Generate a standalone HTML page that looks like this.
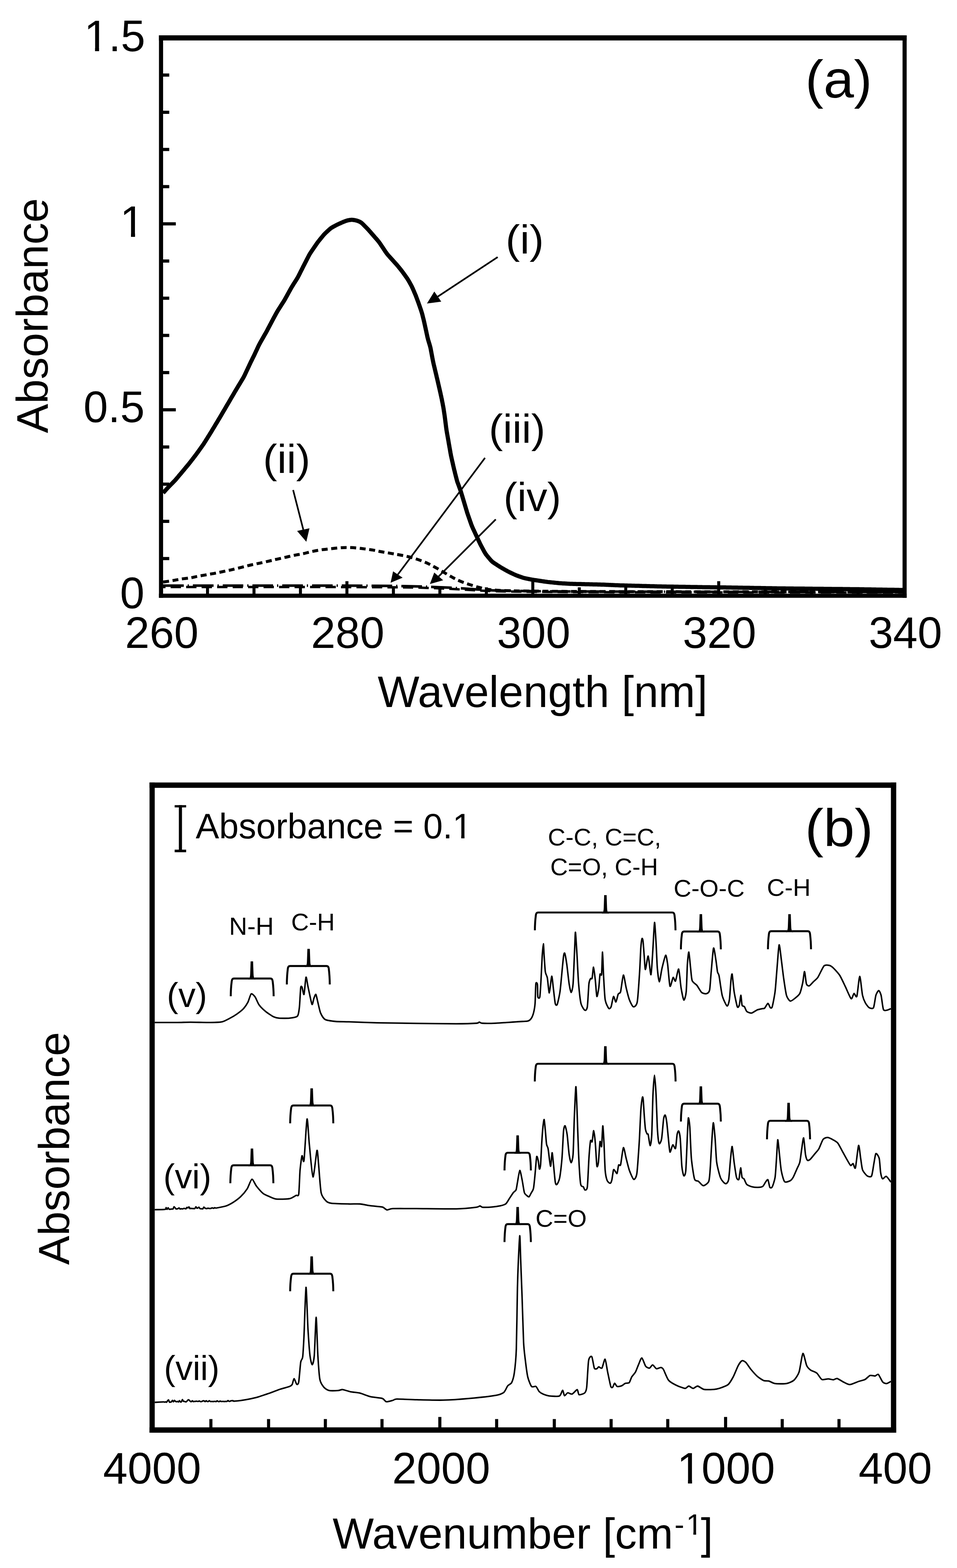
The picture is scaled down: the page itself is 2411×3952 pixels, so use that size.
<!DOCTYPE html>
<html><head><meta charset="utf-8"><style>
html,body{margin:0;padding:0;background:#fff;}
svg{display:block;}
</style></head><body>
<svg width="2411" height="3952" viewBox="0 0 2411 3952">
<rect width="2411" height="3952" fill="#fff"/>
<g fill="#000">
<rect x="400.5" y="89.0" width="1883.7" height="13.0"/>
<rect x="400.5" y="1496.3" width="1883.7" height="10.4"/>
<rect x="400.5" y="89.0" width="10.4" height="1417.7"/>
<rect x="2273.8" y="89.0" width="10.4" height="1417.7"/>
<rect x="410.0" y="1403.8" width="16.4" height="8.0"/>
<rect x="410.0" y="1310.0" width="16.4" height="8.0"/>
<rect x="410.0" y="1216.3" width="16.4" height="8.0"/>
<rect x="410.0" y="1122.6" width="16.4" height="8.0"/>
<rect x="410.0" y="1028.8" width="32.9" height="8.0"/>
<rect x="410.0" y="935.1" width="16.4" height="8.0"/>
<rect x="410.0" y="841.4" width="16.4" height="8.0"/>
<rect x="410.0" y="747.6" width="16.4" height="8.0"/>
<rect x="410.0" y="653.9" width="16.4" height="8.0"/>
<rect x="410.0" y="560.2" width="32.9" height="8.0"/>
<rect x="410.0" y="466.4" width="16.4" height="8.0"/>
<rect x="410.0" y="372.7" width="16.4" height="8.0"/>
<rect x="410.0" y="279.0" width="16.4" height="8.0"/>
<rect x="410.0" y="185.2" width="16.4" height="8.0"/>
<rect x="519.0" y="1480.3" width="7.6" height="16.7"/>
<rect x="636.1" y="1480.3" width="7.6" height="16.7"/>
<rect x="753.1" y="1480.3" width="7.6" height="16.7"/>
<rect x="870.2" y="1464.8" width="7.6" height="32.2"/>
<rect x="987.3" y="1480.3" width="7.6" height="16.7"/>
<rect x="1104.4" y="1480.3" width="7.6" height="16.7"/>
<rect x="1221.5" y="1480.3" width="7.6" height="16.7"/>
<rect x="1338.5" y="1464.8" width="7.6" height="32.2"/>
<rect x="1455.6" y="1480.3" width="7.6" height="16.7"/>
<rect x="1572.7" y="1480.3" width="7.6" height="16.7"/>
<rect x="1689.8" y="1480.3" width="7.6" height="16.7"/>
<rect x="1806.9" y="1464.8" width="7.6" height="32.2"/>
<rect x="1924.0" y="1480.3" width="7.6" height="16.7"/>
<rect x="2041.0" y="1480.3" width="7.6" height="16.7"/>
<rect x="2158.1" y="1480.3" width="7.6" height="16.7"/>
</g>
<g font-family="'Liberation Sans', Arial, sans-serif" fill="#000">
<text x="364.0" y="1532.5" font-size="111" text-anchor="end">0</text>
<text x="364.5" y="1063.8" font-size="111" text-anchor="end">0.5</text>
<text x="364.0" y="596.7" font-size="111" text-anchor="end">1</text>
<text x="366.0" y="128.5" font-size="111" text-anchor="end">1.5</text>
<text x="407.7" y="1632.5" font-size="111" text-anchor="middle">260</text>
<text x="876.0" y="1632.5" font-size="111" text-anchor="middle">280</text>
<text x="1344.3" y="1632.5" font-size="111" text-anchor="middle">300</text>
<text x="1812.7" y="1632.5" font-size="111" text-anchor="middle">320</text>
<text x="2281.0" y="1632.5" font-size="111" text-anchor="middle">340</text>
<text x="1367.0" y="1781.5" font-size="111.3" text-anchor="middle">Wavelength [nm]</text>
<text transform="translate(120,795.5) rotate(-90)" font-size="111" text-anchor="middle">Absorbance</text>
<text transform="translate(2113.0,246.0) scale(1.013,0.985)" font-size="136" text-anchor="middle">(a)</text>
</g>
<g fill="none" stroke="#000" stroke-linejoin="round">
<path d="M411.0,1242.5 L412.8,1240.4 L413.9,1239.3 L415.1,1237.9 L416.3,1236.5 L417.6,1235.0 L419.0,1233.5 L420.3,1232.0 L421.7,1230.6 L423.0,1229.1 L424.4,1227.7 L425.8,1226.2 L427.2,1224.8 L428.6,1223.4 L430.0,1222.0 L431.4,1220.5 L432.8,1219.1 L434.2,1217.7 L435.6,1216.3 L437.1,1214.8 L438.4,1213.4 L439.8,1212.0 L441.2,1210.5 L442.5,1209.0 L443.8,1207.5 L445.1,1206.0 L446.4,1204.4 L447.7,1202.9 L449.0,1201.4 L450.2,1199.8 L451.5,1198.3 L452.8,1196.8 L454.1,1195.2 L455.4,1193.7 L456.7,1192.2 L458.0,1190.6 L459.2,1189.1 L460.5,1187.6 L461.8,1186.0 L463.1,1184.5 L464.4,1183.0 L465.6,1181.4 L466.9,1179.9 L468.2,1178.3 L469.5,1176.8 L470.8,1175.3 L472.0,1173.7 L473.3,1172.2 L474.6,1170.6 L475.9,1169.1 L477.1,1167.5 L478.3,1166.0 L479.6,1164.4 L480.8,1162.8 L482.0,1161.2 L483.2,1159.6 L484.5,1158.1 L485.7,1156.5 L486.9,1154.9 L488.1,1153.3 L489.3,1151.7 L490.6,1150.1 L491.8,1148.5 L493.0,1146.9 L494.2,1145.3 L495.4,1143.7 L496.5,1142.1 L497.7,1140.5 L498.9,1138.9 L500.1,1137.2 L501.2,1135.6 L502.4,1134.0 L503.5,1132.4 L504.7,1130.7 L505.9,1129.1 L507.0,1127.5 L508.2,1125.9 L509.3,1124.2 L510.5,1122.6 L511.6,1120.9 L512.8,1119.3 L513.9,1117.6 L514.9,1115.9 L516.0,1114.2 L517.1,1112.6 L518.1,1110.9 L519.2,1109.2 L520.2,1107.5 L521.3,1105.8 L522.4,1104.1 L523.4,1102.4 L524.5,1100.7 L525.5,1099.0 L526.6,1097.3 L527.7,1095.6 L528.7,1093.9 L529.8,1092.2 L530.8,1090.5 L531.9,1088.8 L532.9,1087.1 L533.9,1085.3 L535.0,1083.6 L536.0,1081.9 L537.0,1080.2 L538.1,1078.5 L539.1,1076.8 L540.1,1075.1 L541.2,1073.4 L542.2,1071.6 L543.2,1069.9 L544.3,1068.2 L545.3,1066.5 L546.3,1064.8 L547.4,1063.1 L548.4,1061.4 L549.4,1059.6 L550.4,1057.9 L551.5,1056.2 L552.5,1054.5 L553.5,1052.8 L554.5,1051.1 L555.5,1049.3 L556.6,1047.6 L557.6,1045.9 L558.6,1044.2 L559.6,1042.4 L560.6,1040.7 L561.6,1039.0 L562.6,1037.2 L563.6,1035.5 L564.6,1033.8 L565.7,1032.1 L566.7,1030.3 L567.7,1028.6 L568.7,1026.9 L569.7,1025.2 L570.7,1023.4 L571.7,1021.7 L572.7,1020.0 L573.7,1018.3 L574.8,1016.5 L575.8,1014.8 L576.8,1013.1 L577.8,1011.4 L578.8,1009.6 L579.8,1007.9 L580.8,1006.2 L581.8,1004.4 L582.8,1002.7 L583.8,1001.0 L584.8,999.3 L585.9,997.5 L586.9,995.8 L587.9,994.1 L588.9,992.4 L589.9,990.6 L590.9,988.9 L591.9,987.2 L592.9,985.5 L594.0,983.7 L595.0,982.0 L596.0,980.3 L597.0,978.6 L598.1,976.9 L599.1,975.2 L600.1,973.4 L601.2,971.7 L602.2,970.0 L603.2,968.3 L604.3,966.6 L605.3,964.9 L606.3,963.2 L607.4,961.4 L608.4,959.7 L609.4,958.0 L610.4,956.3 L611.5,954.6 L612.5,952.9 L613.5,951.1 L614.4,949.4 L615.3,947.6 L616.2,945.8 L617.1,944.0 L617.9,942.2 L618.8,940.4 L619.6,938.6 L620.5,936.7 L621.3,934.9 L622.2,933.1 L623.0,931.3 L623.9,929.5 L624.7,927.7 L625.6,925.9 L626.4,924.1 L627.3,922.3 L628.1,920.4 L629.0,918.6 L629.8,916.8 L630.7,915.0 L631.5,913.2 L632.4,911.4 L633.3,909.6 L634.2,907.8 L635.1,906.0 L636.0,904.2 L636.8,902.4 L637.7,900.7 L638.6,898.9 L639.5,897.1 L640.4,895.3 L641.2,893.5 L642.1,891.7 L642.9,889.8 L643.8,888.0 L644.6,886.2 L645.5,884.4 L646.3,882.6 L647.2,880.8 L648.0,879.0 L648.8,877.2 L649.7,875.3 L650.5,873.5 L651.4,871.7 L652.3,869.9 L653.2,868.1 L654.1,866.4 L655.1,864.6 L656.0,862.9 L657.0,861.1 L658.0,859.4 L659.0,857.6 L660.0,855.9 L661.0,854.2 L662.0,852.4 L663.0,850.7 L663.9,849.0 L664.9,847.2 L665.9,845.5 L666.9,843.7 L667.9,842.0 L668.9,840.3 L669.9,838.5 L670.9,836.8 L671.8,835.0 L672.8,833.3 L673.7,831.5 L674.6,829.7 L675.6,828.0 L676.5,826.2 L677.4,824.4 L678.4,822.7 L679.3,820.9 L680.2,819.1 L681.2,817.3 L682.1,815.6 L683.0,813.8 L684.0,812.0 L684.9,810.3 L685.8,808.5 L686.8,806.7 L687.7,805.0 L688.6,803.2 L689.6,801.4 L690.5,799.7 L691.5,797.9 L692.5,796.2 L693.4,794.4 L694.4,792.6 L695.3,790.9 L696.3,789.1 L697.3,787.4 L698.2,785.7 L699.3,783.9 L700.3,782.2 L701.4,780.5 L702.4,778.8 L703.5,777.2 L704.6,775.5 L705.7,773.8 L706.7,772.1 L707.8,770.4 L708.9,768.7 L710.0,767.0 L711.0,765.4 L712.1,763.7 L713.2,762.0 L714.3,760.3 L715.3,758.6 L716.4,756.9 L717.4,755.2 L718.4,753.4 L719.3,751.7 L720.3,749.9 L721.3,748.2 L722.3,746.4 L723.2,744.7 L724.2,742.9 L725.1,741.2 L726.1,739.4 L727.1,737.7 L728.0,735.9 L729.0,734.2 L730.0,732.4 L730.9,730.7 L731.9,728.9 L732.9,727.2 L733.9,725.4 L734.9,723.7 L735.9,722.0 L737.0,720.3 L738.0,718.6 L739.1,716.9 L740.1,715.2 L741.2,713.5 L742.3,711.8 L743.4,710.1 L744.4,708.4 L745.5,706.8 L746.6,705.1 L747.6,703.4 L748.7,701.7 L749.7,699.9 L750.7,698.2 L751.6,696.4 L752.5,694.7 L753.4,692.9 L754.3,691.1 L755.2,689.3 L756.1,687.5 L757.0,685.7 L757.9,683.9 L758.8,682.1 L759.7,680.4 L760.6,678.6 L761.5,676.8 L762.4,675.0 L763.3,673.2 L764.2,671.4 L765.1,669.6 L766.0,667.9 L766.9,666.1 L767.8,664.3 L768.7,662.5 L769.7,660.7 L770.6,659.0 L771.5,657.2 L772.4,655.4 L773.3,653.6 L774.2,651.8 L775.1,650.1 L776.0,648.3 L777.0,646.5 L777.9,644.7 L778.8,643.0 L779.8,641.2 L780.8,639.5 L781.9,637.8 L783.0,636.1 L784.1,634.5 L785.2,632.8 L786.3,631.2 L787.5,629.5 L788.6,627.9 L789.7,626.2 L790.8,624.6 L792.0,622.9 L793.1,621.3 L794.2,619.6 L795.4,618.0 L796.5,616.3 L797.6,614.7 L798.8,613.0 L800.0,611.4 L801.1,609.8 L802.4,608.2 L803.6,606.6 L804.9,605.1 L806.1,603.5 L807.4,602.0 L808.7,600.4 L809.9,598.9 L811.2,597.4 L812.5,595.8 L813.7,594.3 L815.0,592.7 L816.4,591.2 L817.7,589.8 L819.1,588.3 L820.5,586.9 L822.0,585.6 L823.4,584.2 L824.9,582.8 L826.4,581.5 L827.8,580.1 L829.3,578.8 L830.8,577.5 L832.3,576.2 L833.9,575.0 L835.6,573.9 L837.3,572.9 L839.0,571.9 L840.8,570.9 L842.5,570.0 L844.3,569.0 L846.0,568.1 L847.8,567.1 L849.6,566.2 L851.4,565.4 L853.2,564.5 L855.0,563.7 L856.8,562.9 L858.7,562.1 L860.5,561.3 L862.3,560.5 L864.2,559.7 L866.0,558.9 L867.9,558.2 L869.7,557.4 L871.6,556.8 L873.5,556.2 L875.4,555.7 L877.4,555.2 L879.3,554.8 L881.3,554.5 L883.3,554.2 L885.2,554.1 L887.2,554.1 L889.2,554.2 L891.1,554.5 L893.1,554.8 L895.1,555.2 L897.0,555.6 L898.9,556.1 L900.8,556.7 L902.7,557.4 L904.5,558.1 L906.3,559.0 L908.0,559.9 L909.7,561.0 L911.3,562.2 L912.7,563.5 L914.2,564.9 L915.6,566.3 L917.0,567.7 L918.4,569.1 L919.8,570.6 L921.2,572.0 L922.6,573.4 L924.0,574.9 L925.4,576.3 L926.8,577.7 L928.1,579.2 L929.5,580.7 L930.8,582.2 L932.1,583.7 L933.5,585.2 L934.8,586.7 L936.1,588.2 L937.4,589.7 L938.7,591.2 L940.0,592.7 L941.3,594.2 L942.6,595.7 L943.9,597.2 L945.2,598.8 L946.6,600.3 L947.9,601.8 L949.2,603.3 L950.5,604.8 L951.8,606.3 L953.0,607.9 L954.3,609.4 L955.5,611.0 L956.7,612.7 L957.8,614.3 L958.9,615.9 L960.0,617.6 L961.1,619.3 L962.2,620.9 L963.4,622.6 L964.5,624.3 L965.6,625.9 L966.7,627.6 L967.8,629.3 L968.9,630.9 L970.0,632.6 L971.1,634.3 L972.3,635.9 L973.4,637.5 L974.6,639.1 L975.8,640.7 L977.1,642.2 L978.4,643.8 L979.7,645.2 L981.1,646.7 L982.4,648.2 L983.7,649.7 L985.1,651.2 L986.4,652.7 L987.8,654.2 L989.1,655.6 L990.5,657.1 L991.8,658.6 L993.1,660.1 L994.5,661.6 L995.8,663.1 L997.2,664.6 L998.5,666.0 L999.8,667.5 L1001.1,669.1 L1002.4,670.6 L1003.7,672.1 L1004.9,673.7 L1006.2,675.2 L1007.4,676.8 L1008.7,678.4 L1009.9,679.9 L1011.2,681.5 L1012.4,683.1 L1013.6,684.7 L1014.8,686.3 L1016.0,687.9 L1017.1,689.5 L1018.3,691.1 L1019.5,692.8 L1020.6,694.4 L1021.8,696.0 L1023.0,697.7 L1024.1,699.3 L1025.3,700.9 L1026.4,702.6 L1027.5,704.3 L1028.5,706.0 L1029.5,707.7 L1030.5,709.4 L1031.5,711.2 L1032.5,712.9 L1033.4,714.7 L1034.4,716.4 L1035.4,718.2 L1036.3,719.9 L1037.2,721.7 L1038.1,723.5 L1038.9,725.3 L1039.8,727.1 L1040.6,729.0 L1041.4,730.8 L1042.2,732.6 L1043.0,734.5 L1043.7,736.3 L1044.5,738.1 L1045.3,740.0 L1046.1,741.8 L1046.9,743.7 L1047.6,745.5 L1048.3,747.4 L1049.0,749.3 L1049.7,751.1 L1050.4,753.0 L1051.1,754.9 L1051.8,756.8 L1052.5,758.7 L1053.2,760.5 L1053.9,762.4 L1054.6,764.3 L1055.2,766.2 L1055.9,768.1 L1056.6,769.9 L1057.2,771.8 L1057.9,773.7 L1058.5,775.6 L1059.2,777.5 L1059.8,779.4 L1060.5,781.3 L1061.1,783.2 L1061.7,785.1 L1062.3,787.0 L1062.9,788.9 L1063.4,790.8 L1064.0,792.8 L1064.5,794.7 L1064.9,796.6 L1065.4,798.6 L1065.9,800.5 L1066.4,802.5 L1066.9,804.4 L1067.4,806.3 L1067.8,808.3 L1068.3,810.2 L1068.7,812.2 L1069.2,814.1 L1069.6,816.1 L1070.0,818.0 L1070.5,820.0 L1070.9,821.9 L1071.3,823.9 L1071.8,825.9 L1072.2,827.8 L1072.6,829.8 L1073.0,831.7 L1073.5,833.7 L1073.9,835.6 L1074.3,837.6 L1074.7,839.5 L1075.1,841.5 L1075.6,843.5 L1076.0,845.4 L1076.4,847.4 L1076.8,849.3 L1077.3,851.3 L1077.8,853.2 L1078.3,855.1 L1078.8,857.1 L1079.4,859.0 L1080.0,860.9 L1080.5,862.8 L1081.1,864.7 L1081.7,866.6 L1082.3,868.6 L1082.8,870.5 L1083.4,872.4 L1083.9,874.3 L1084.4,876.3 L1084.8,878.2 L1085.2,880.2 L1085.6,882.1 L1085.9,884.1 L1086.3,886.1 L1086.7,888.0 L1087.0,890.0 L1087.4,892.0 L1087.8,893.9 L1088.1,895.9 L1088.5,897.9 L1088.9,899.8 L1089.2,901.8 L1089.6,903.8 L1090.0,905.7 L1090.4,907.7 L1090.8,909.7 L1091.2,911.6 L1091.6,913.6 L1092.0,915.5 L1092.5,917.5 L1092.9,919.4 L1093.4,921.4 L1093.9,923.3 L1094.3,925.3 L1094.8,927.2 L1095.3,929.1 L1095.7,931.1 L1096.2,933.0 L1096.6,935.0 L1097.1,936.9 L1097.6,938.9 L1098.0,940.8 L1098.5,942.8 L1099.0,944.7 L1099.4,946.7 L1099.9,948.6 L1100.3,950.6 L1100.8,952.5 L1101.3,954.4 L1101.7,956.4 L1102.2,958.3 L1102.6,960.3 L1103.1,962.2 L1103.5,964.2 L1104.0,966.1 L1104.4,968.1 L1104.9,970.0 L1105.3,972.0 L1105.8,973.9 L1106.2,975.9 L1106.7,977.8 L1107.1,979.8 L1107.6,981.7 L1108.0,983.7 L1108.4,985.6 L1108.9,987.6 L1109.3,989.5 L1109.8,991.5 L1110.2,993.4 L1110.6,995.4 L1111.1,997.4 L1111.5,999.3 L1111.9,1001.3 L1112.3,1003.2 L1112.8,1005.2 L1113.2,1007.1 L1113.5,1009.1 L1113.9,1011.1 L1114.3,1013.0 L1114.7,1015.0 L1115.1,1016.9 L1115.5,1018.9 L1115.8,1020.9 L1116.2,1022.8 L1116.6,1024.8 L1116.9,1026.8 L1117.3,1028.7 L1117.6,1030.7 L1117.9,1032.7 L1118.2,1034.7 L1118.5,1036.7 L1118.8,1038.6 L1119.1,1040.6 L1119.4,1042.6 L1119.7,1044.6 L1120.0,1046.5 L1120.3,1048.5 L1120.5,1050.5 L1120.8,1052.5 L1121.1,1054.5 L1121.3,1056.5 L1121.6,1058.4 L1121.8,1060.4 L1122.1,1062.4 L1122.3,1064.4 L1122.6,1066.4 L1122.8,1068.4 L1123.1,1070.3 L1123.3,1072.3 L1123.6,1074.3 L1123.8,1076.3 L1124.1,1078.3 L1124.4,1080.3 L1124.6,1082.2 L1124.9,1084.2 L1125.3,1086.2 L1125.6,1088.2 L1125.9,1090.1 L1126.3,1092.1 L1126.6,1094.1 L1127.0,1096.0 L1127.3,1098.0 L1127.7,1100.0 L1128.0,1102.0 L1128.4,1103.9 L1128.7,1105.9 L1129.1,1107.9 L1129.4,1109.8 L1129.8,1111.8 L1130.1,1113.8 L1130.4,1115.7 L1130.8,1117.7 L1131.1,1119.7 L1131.5,1121.7 L1131.8,1123.6 L1132.2,1125.6 L1132.5,1127.6 L1132.9,1129.5 L1133.2,1131.5 L1133.6,1133.5 L1133.9,1135.4 L1134.2,1137.4 L1134.6,1139.4 L1134.9,1141.4 L1135.3,1143.3 L1135.7,1145.3 L1136.0,1147.3 L1136.4,1149.2 L1136.9,1151.2 L1137.3,1153.1 L1137.7,1155.1 L1138.2,1157.0 L1138.6,1159.0 L1139.0,1160.9 L1139.5,1162.9 L1139.9,1164.8 L1140.4,1166.8 L1140.8,1168.7 L1141.2,1170.7 L1141.7,1172.6 L1142.1,1174.6 L1142.6,1176.5 L1143.0,1178.5 L1143.5,1180.4 L1143.9,1182.4 L1144.4,1184.3 L1144.9,1186.3 L1145.4,1188.2 L1145.9,1190.1 L1146.3,1192.1 L1146.8,1194.0 L1147.3,1196.0 L1147.8,1197.9 L1148.3,1199.9 L1148.8,1201.8 L1149.3,1203.7 L1149.8,1205.7 L1150.3,1207.6 L1150.8,1209.5 L1151.3,1211.5 L1151.9,1213.4 L1152.5,1215.3 L1153.2,1217.1 L1153.9,1219.0 L1154.6,1220.9 L1155.3,1222.8 L1156.0,1224.7 L1156.7,1226.5 L1157.3,1228.4 L1158.0,1230.3 L1158.7,1232.2 L1159.4,1234.1 L1160.0,1235.9 L1160.7,1237.8 L1161.3,1239.7 L1161.9,1241.7 L1162.5,1243.6 L1163.0,1245.5 L1163.6,1247.4 L1164.2,1249.3 L1164.8,1251.2 L1165.3,1253.1 L1165.9,1255.1 L1166.5,1257.0 L1167.1,1258.9 L1167.6,1260.8 L1168.2,1262.7 L1168.8,1264.6 L1169.4,1266.6 L1169.9,1268.5 L1170.5,1270.4 L1171.1,1272.3 L1171.6,1274.2 L1172.2,1276.1 L1172.8,1278.1 L1173.4,1280.0 L1173.9,1281.9 L1174.5,1283.8 L1175.1,1285.7 L1175.7,1287.6 L1176.2,1289.6 L1176.8,1291.5 L1177.4,1293.4 L1178.1,1295.3 L1178.7,1297.2 L1179.4,1299.1 L1180.0,1300.9 L1180.7,1302.8 L1181.3,1304.7 L1182.0,1306.6 L1182.7,1308.5 L1183.3,1310.4 L1184.0,1312.3 L1184.6,1314.2 L1185.3,1316.0 L1186.0,1317.9 L1186.6,1319.8 L1187.3,1321.7 L1188.0,1323.6 L1188.7,1325.4 L1189.5,1327.3 L1190.3,1329.1 L1191.1,1330.9 L1191.9,1332.8 L1192.8,1334.6 L1193.6,1336.4 L1194.5,1338.2 L1195.3,1340.0 L1196.2,1341.8 L1197.0,1343.6 L1197.8,1345.5 L1198.7,1347.3 L1199.5,1349.1 L1200.4,1350.9 L1201.2,1352.7 L1202.1,1354.5 L1202.9,1356.3 L1203.7,1358.2 L1204.6,1360.0 L1205.4,1361.8 L1206.3,1363.6 L1207.1,1365.4 L1208.0,1367.2 L1208.8,1369.0 L1209.7,1370.8 L1210.6,1372.6 L1211.5,1374.4 L1212.4,1376.2 L1213.4,1377.9 L1214.3,1379.7 L1215.3,1381.5 L1216.2,1383.2 L1217.1,1385.0 L1218.1,1386.8 L1219.0,1388.5 L1220.0,1390.3 L1221.0,1392.0 L1222.0,1393.7 L1223.0,1395.4 L1224.2,1397.1 L1225.4,1398.6 L1226.6,1400.2 L1227.9,1401.8 L1229.1,1403.3 L1230.4,1404.8 L1231.7,1406.4 L1233.0,1407.9 L1234.3,1409.4 L1235.6,1411.0 L1236.9,1412.4 L1238.3,1413.9 L1239.7,1415.2 L1241.2,1416.5 L1242.8,1417.7 L1244.5,1418.8 L1246.1,1419.9 L1247.8,1421.0 L1249.5,1422.1 L1251.2,1423.2 L1252.8,1424.3 L1254.5,1425.4 L1256.2,1426.5 L1257.9,1427.6 L1259.6,1428.6 L1261.3,1429.7 L1263.0,1430.7 L1264.7,1431.7 L1266.4,1432.7 L1268.2,1433.7 L1269.9,1434.7 L1271.6,1435.7 L1273.4,1436.7 L1275.1,1437.7 L1276.9,1438.7 L1278.6,1439.6 L1280.4,1440.5 L1282.2,1441.5 L1283.9,1442.3 L1285.7,1443.2 L1287.6,1444.1 L1289.4,1444.9 L1291.2,1445.8 L1293.0,1446.6 L1294.8,1447.5 L1296.6,1448.3 L1298.4,1449.1 L1300.3,1449.9 L1302.1,1450.6 L1304.0,1451.3 L1305.9,1452.0 L1307.8,1452.7 L1309.7,1453.3 L1311.6,1454.0 L1313.4,1454.6 L1315.3,1455.3 L1317.2,1455.9 L1319.2,1456.5 L1321.1,1457.0 L1323.0,1457.5 L1325.0,1457.9 L1326.9,1458.3 L1328.9,1458.7 L1330.8,1459.1 L1332.8,1459.5 L1334.8,1459.9 L1336.7,1460.3 L1338.7,1460.6 L1340.7,1461.0 L1342.6,1461.3 L1344.6,1461.6 L1346.6,1461.9 L1348.6,1462.2 L1350.5,1462.5 L1352.5,1462.8 L1354.5,1463.1 L1356.5,1463.4 L1358.5,1463.7 L1360.4,1464.0 L1362.4,1464.3 L1364.4,1464.6 L1366.4,1464.9 L1368.4,1465.2 L1370.3,1465.5 L1372.3,1465.8 L1374.3,1466.1 L1376.3,1466.3 L1378.2,1466.6 L1380.2,1466.9 L1382.2,1467.1 L1384.2,1467.3 L1386.2,1467.5 L1388.2,1467.7 L1390.2,1467.9 L1392.2,1468.1 L1394.2,1468.3 L1396.1,1468.5 L1398.1,1468.7 L1400.1,1468.9 L1402.1,1469.1 L1404.1,1469.3 L1406.1,1469.5 L1408.1,1469.7 L1410.1,1469.9 L1412.1,1470.0 L1414.1,1470.1 L1416.1,1470.3 L1418.1,1470.4 L1420.1,1470.5 L1422.1,1470.6 L1424.1,1470.7 L1426.1,1470.8 L1428.1,1470.9 L1430.1,1471.1 L1432.0,1471.2 L1434.0,1471.3 L1436.0,1471.4 L1438.0,1471.5 L1440.0,1471.6 L1442.0,1471.6 L1444.0,1471.7 L1446.0,1471.7 L1448.0,1471.8 L1450.0,1471.8 L1452.0,1471.9 L1454.0,1471.9 L1456.0,1472.0 L1458.0,1472.0 L1460.0,1472.1 L1462.0,1472.1 L1464.0,1472.1 L1466.0,1472.2 L1468.0,1472.2 L1470.0,1472.3 L1472.0,1472.3 L1474.0,1472.4 L1476.0,1472.4 L1478.0,1472.5 L1480.0,1472.5 L1482.0,1472.6 L1484.0,1472.6 L1486.0,1472.7 L1488.0,1472.7 L1490.0,1472.8 L1492.0,1472.8 L1494.0,1472.9 L1496.0,1472.9 L1498.0,1473.0 L1500.0,1473.0 L1502.0,1473.1 L1504.0,1473.1 L1506.0,1473.2 L1508.0,1473.2 L1510.0,1473.3 L1512.0,1473.3 L1514.0,1473.4 L1516.0,1473.4 L1518.0,1473.5 L1520.0,1473.6 L1522.0,1473.6 L1524.0,1473.7 L1526.0,1473.8 L1528.0,1473.9 L1530.0,1474.0 L1532.0,1474.1 L1534.0,1474.2 L1536.0,1474.2 L1538.0,1474.3 L1540.0,1474.4 L1542.0,1474.5 L1544.0,1474.6 L1546.0,1474.7 L1548.0,1474.8 L1550.0,1474.9 L1552.0,1475.0 L1554.0,1475.1 L1556.0,1475.1 L1558.0,1475.2 L1560.0,1475.3 L1562.0,1475.4 L1564.0,1475.4 L1566.0,1475.5 L1568.0,1475.5 L1570.0,1475.6 L1572.0,1475.6 L1574.0,1475.7 L1576.0,1475.7 L1578.0,1475.8 L1580.0,1475.8 L1582.0,1475.9 L1584.0,1476.0 L1586.0,1476.0 L1588.0,1476.1 L1590.0,1476.1 L1592.0,1476.2 L1594.0,1476.2 L1596.0,1476.3 L1598.0,1476.3 L1600.0,1476.4 L1602.0,1476.4 L1604.0,1476.5 L1606.0,1476.5 L1608.0,1476.6 L1610.0,1476.6 L1612.0,1476.7 L1614.0,1476.7 L1616.0,1476.8 L1618.0,1476.9 L1620.0,1476.9 L1622.0,1477.0 L1624.0,1477.0 L1626.0,1477.1 L1628.0,1477.1 L1630.0,1477.2 L1632.0,1477.2 L1634.0,1477.3 L1636.0,1477.3 L1638.0,1477.4 L1640.0,1477.4 L1642.0,1477.5 L1644.0,1477.5 L1646.0,1477.6 L1648.0,1477.6 L1650.0,1477.7 L1652.0,1477.7 L1654.0,1477.8 L1656.0,1477.9 L1658.0,1477.9 L1660.0,1478.0 L1662.0,1478.0 L1664.0,1478.1 L1666.0,1478.1 L1668.0,1478.2 L1670.0,1478.2 L1672.0,1478.2 L1674.0,1478.3 L1676.0,1478.3 L1678.0,1478.3 L1680.0,1478.4 L1682.0,1478.4 L1684.0,1478.4 L1686.0,1478.5 L1688.0,1478.5 L1690.0,1478.5 L1692.0,1478.6 L1694.0,1478.6 L1696.0,1478.6 L1698.0,1478.7 L1700.0,1478.7 L1702.0,1478.7 L1704.0,1478.8 L1706.0,1478.8 L1708.0,1478.8 L1710.0,1478.9 L1712.0,1478.9 L1714.0,1478.9 L1716.0,1479.0 L1718.0,1479.0 L1720.0,1479.0 L1722.0,1479.1 L1724.0,1479.1 L1726.0,1479.1 L1728.0,1479.2 L1730.0,1479.2 L1732.0,1479.2 L1734.0,1479.3 L1736.0,1479.3 L1738.0,1479.3 L1740.0,1479.4 L1742.0,1479.4 L1744.0,1479.4 L1746.0,1479.5 L1748.0,1479.5 L1750.0,1479.5 L1752.0,1479.6 L1754.0,1479.6 L1756.0,1479.6 L1758.0,1479.7 L1760.0,1479.7 L1762.0,1479.7 L1764.0,1479.8 L1766.0,1479.8 L1768.0,1479.8 L1770.0,1479.9 L1772.0,1479.9 L1774.0,1479.9 L1776.0,1480.0 L1778.0,1480.0 L1780.0,1480.0 L1782.0,1480.1 L1784.0,1480.1 L1786.0,1480.1 L1788.0,1480.1 L1790.0,1480.2 L1792.0,1480.2 L1794.0,1480.2 L1796.0,1480.2 L1798.0,1480.3 L1800.0,1480.3 L1802.0,1480.3 L1804.0,1480.3 L1806.0,1480.4 L1808.0,1480.4 L1810.0,1480.4 L1812.0,1480.4 L1814.0,1480.5 L1816.0,1480.5 L1818.0,1480.5 L1820.0,1480.5 L1822.0,1480.6 L1824.0,1480.6 L1826.0,1480.6 L1828.0,1480.6 L1830.0,1480.7 L1832.0,1480.7 L1834.0,1480.7 L1836.0,1480.8 L1838.0,1480.8 L1840.0,1480.8 L1842.0,1480.8 L1844.0,1480.9 L1846.0,1480.9 L1848.0,1480.9 L1850.0,1481.0 L1852.0,1481.0 L1854.0,1481.0 L1856.0,1481.1 L1858.0,1481.1 L1860.0,1481.2 L1862.0,1481.2 L1864.0,1481.2 L1866.0,1481.3 L1868.0,1481.3 L1870.0,1481.3 L1872.0,1481.4 L1874.0,1481.4 L1876.0,1481.4 L1878.0,1481.5 L1880.0,1481.5 L1882.0,1481.5 L1884.0,1481.6 L1886.0,1481.6 L1888.0,1481.6 L1890.0,1481.7 L1892.0,1481.7 L1894.0,1481.7 L1896.0,1481.8 L1898.0,1481.8 L1900.0,1481.9 L1902.0,1481.9 L1904.0,1481.9 L1906.0,1482.0 L1908.0,1482.0 L1910.0,1482.0 L1912.0,1482.1 L1914.0,1482.1 L1916.0,1482.1 L1918.0,1482.2 L1920.0,1482.2 L1922.0,1482.2 L1924.0,1482.3 L1926.0,1482.3 L1928.0,1482.3 L1930.0,1482.4 L1932.0,1482.4 L1934.0,1482.4 L1936.0,1482.5 L1938.0,1482.5 L1940.0,1482.6 L1942.0,1482.6 L1944.0,1482.6 L1946.0,1482.7 L1948.0,1482.7 L1950.0,1482.7 L1952.0,1482.8 L1954.0,1482.8 L1956.0,1482.8 L1958.0,1482.9 L1960.0,1482.9 L1962.0,1482.9 L1964.0,1483.0 L1966.0,1483.0 L1968.0,1483.0 L1970.0,1483.0 L1972.0,1483.1 L1974.0,1483.1 L1976.0,1483.1 L1978.0,1483.1 L1980.0,1483.2 L1982.0,1483.2 L1984.0,1483.2 L1986.0,1483.2 L1988.0,1483.2 L1990.0,1483.3 L1992.0,1483.3 L1994.0,1483.3 L1996.0,1483.3 L1998.0,1483.3 L2000.0,1483.4 L2002.0,1483.4 L2004.0,1483.4 L2006.0,1483.4 L2008.0,1483.4 L2010.0,1483.5 L2012.0,1483.5 L2014.0,1483.5 L2016.0,1483.5 L2018.0,1483.6 L2020.0,1483.6 L2022.0,1483.6 L2024.0,1483.6 L2026.0,1483.6 L2028.0,1483.7 L2030.0,1483.7 L2032.0,1483.7 L2034.0,1483.7 L2036.0,1483.7 L2038.0,1483.8 L2040.0,1483.8 L2042.0,1483.8 L2044.0,1483.8 L2046.0,1483.8 L2048.0,1483.9 L2050.0,1483.9 L2052.0,1483.9 L2054.0,1483.9 L2056.0,1483.9 L2058.0,1484.0 L2060.0,1484.0 L2062.0,1484.0 L2064.0,1484.0 L2066.0,1484.1 L2068.0,1484.1 L2070.0,1484.1 L2072.0,1484.1 L2074.0,1484.1 L2076.0,1484.2 L2078.0,1484.2 L2080.0,1484.2 L2082.0,1484.2 L2084.0,1484.2 L2086.0,1484.3 L2088.0,1484.3 L2090.0,1484.3 L2092.0,1484.3 L2094.0,1484.3 L2096.0,1484.4 L2098.0,1484.4 L2100.0,1484.4 L2102.0,1484.4 L2104.0,1484.5 L2106.0,1484.5 L2108.0,1484.5 L2110.0,1484.5 L2112.0,1484.5 L2114.0,1484.6 L2116.0,1484.6 L2118.0,1484.6 L2120.0,1484.6 L2122.0,1484.6 L2124.0,1484.7 L2126.0,1484.7 L2128.0,1484.7 L2130.0,1484.7 L2132.0,1484.7 L2134.0,1484.8 L2136.0,1484.8 L2138.0,1484.8 L2140.0,1484.8 L2142.0,1484.9 L2144.0,1484.9 L2146.0,1484.9 L2148.0,1484.9 L2150.0,1484.9 L2152.0,1485.0 L2154.0,1485.0 L2156.0,1485.0 L2158.0,1485.0 L2160.0,1485.1 L2162.0,1485.1 L2164.0,1485.1 L2166.0,1485.2 L2168.0,1485.2 L2170.0,1485.2 L2172.0,1485.3 L2174.0,1485.3 L2176.0,1485.3 L2178.0,1485.4 L2180.0,1485.4 L2182.0,1485.4 L2184.0,1485.5 L2186.0,1485.5 L2188.0,1485.5 L2190.0,1485.6 L2192.0,1485.6 L2194.0,1485.6 L2196.0,1485.7 L2198.0,1485.7 L2200.0,1485.7 L2202.0,1485.8 L2204.0,1485.8 L2206.0,1485.8 L2208.0,1485.9 L2210.0,1485.9 L2212.0,1485.9 L2214.0,1486.0 L2216.0,1486.0 L2218.0,1486.1 L2220.0,1486.1 L2222.0,1486.1 L2224.0,1486.2 L2226.0,1486.2 L2228.0,1486.2 L2230.0,1486.3 L2232.0,1486.3 L2234.0,1486.3 L2236.0,1486.4 L2238.0,1486.4 L2240.0,1486.4 L2242.0,1486.5 L2244.0,1486.5 L2246.0,1486.5 L2248.0,1486.6 L2250.0,1486.6 L2252.0,1486.6 L2254.0,1486.7 L2256.0,1486.7 L2258.0,1486.7 L2260.0,1486.8 L2262.0,1486.8 L2264.0,1486.8 L2266.0,1486.9 L2267.9,1486.9 L2269.7,1486.9 L2271.2,1487.0 L2274.0,1487.0" stroke-width="10.5"/>
<path d="M411.0,1467.0 C415.0,1466.4 427.7,1464.5 435.1,1463.3 C442.5,1462.0 447.9,1460.7 455.4,1459.5 C462.8,1458.3 472.7,1457.6 479.8,1456.4 C486.9,1455.2 491.0,1453.9 497.9,1452.6 C504.8,1451.3 513.6,1449.8 521.4,1448.4 C529.2,1447.0 537.0,1445.7 544.8,1444.2 C552.6,1442.7 561.5,1440.6 568.2,1439.2 C574.9,1437.8 578.5,1437.2 585.2,1435.6 C591.9,1434.0 600.8,1431.7 608.6,1429.8 C616.4,1427.9 624.5,1425.8 632.1,1424.0 C639.7,1422.2 647.0,1420.9 654.4,1419.3 C661.8,1417.7 670.0,1415.8 676.8,1414.3 C683.5,1412.8 688.0,1411.6 694.9,1410.0 C701.8,1408.4 710.2,1406.7 718.0,1404.9 C725.8,1403.2 734.2,1401.1 741.9,1399.5 C749.5,1397.9 756.9,1397.0 763.9,1395.5 C770.9,1394.0 776.8,1392.0 783.8,1390.5 C790.8,1389.0 798.1,1387.5 805.8,1386.3 C813.4,1385.1 821.7,1384.4 829.7,1383.5 C837.7,1382.6 846.5,1381.5 853.7,1380.9 C860.9,1380.3 865.6,1379.9 872.7,1379.9 C879.9,1379.9 889.1,1380.3 896.6,1380.9 C904.1,1381.5 910.5,1382.5 917.6,1383.4 C924.8,1384.3 932.4,1385.2 939.5,1386.4 C946.6,1387.6 951.2,1388.9 960.0,1390.5 C968.8,1392.1 980.3,1393.8 992.0,1396.0 C1003.7,1398.2 1017.5,1400.2 1030.3,1403.5 C1043.1,1406.8 1057.4,1411.5 1068.6,1416.0 C1079.8,1420.5 1086.1,1424.2 1097.3,1430.4 C1108.5,1436.6 1126.0,1447.4 1136.0,1453.0 C1146.0,1458.6 1149.8,1460.6 1157.6,1464.0 C1165.4,1467.4 1174.0,1470.4 1182.6,1473.2 C1191.2,1476.0 1201.3,1479.0 1209.0,1481.0 C1216.7,1483.0 1218.8,1484.2 1229.0,1485.5 C1239.2,1486.8 1249.8,1487.8 1270.0,1488.5 C1290.2,1489.2 1311.7,1489.6 1350.0,1490.0 C1388.3,1490.4 1425.0,1490.8 1500.0,1491.0 C1575.0,1491.2 1671.0,1491.3 1800.0,1491.5 C1929.0,1491.7 2195.0,1491.9 2274.0,1492.0" stroke-width="7.5" stroke-dasharray="15 9"/>
<path d="M411.0,1476.0 C442.5,1476.0 535.2,1476.0 600.0,1476.0 C664.8,1476.0 741.7,1475.9 800.0,1476.0 C858.3,1476.1 908.3,1476.2 950.0,1476.5 C991.7,1476.8 1020.0,1477.2 1050.0,1478.0 C1080.0,1478.8 1105.0,1479.8 1130.0,1481.0 C1155.0,1482.2 1178.3,1484.2 1200.0,1485.5 C1221.7,1486.8 1226.7,1487.7 1260.0,1488.5 C1293.3,1489.3 1326.7,1490.0 1400.0,1490.5 C1473.3,1491.0 1554.3,1491.2 1700.0,1491.5 C1845.7,1491.8 2178.3,1491.9 2274.0,1492.0" stroke-width="6.5" stroke-dasharray="52 10 3 10"/>
<path d="M411.0,1479.5 C442.5,1479.5 535.2,1479.5 600.0,1479.5 C664.8,1479.5 741.7,1479.4 800.0,1479.5 C858.3,1479.6 908.3,1479.8 950.0,1480.0 C991.7,1480.2 1020.0,1480.3 1050.0,1481.0 C1080.0,1481.7 1105.0,1482.8 1130.0,1484.0 C1155.0,1485.2 1178.3,1486.9 1200.0,1488.0 C1221.7,1489.1 1226.7,1489.8 1260.0,1490.5 C1293.3,1491.2 1326.7,1491.6 1400.0,1492.0 C1473.3,1492.4 1554.3,1492.8 1700.0,1493.0 C1845.7,1493.2 2178.3,1493.4 2274.0,1493.5" stroke-width="6" stroke-dasharray="26 13" stroke-dashoffset="20"/>
</g>
<line x1="1253.8" y1="648.0" x2="1103.0" y2="747.5" stroke="#000" stroke-width="4.2"/>
<polygon points="1075.6,765.0 1094.2,734.7 1111.7,760.3" fill="#000"/>
<line x1="738.5" y1="1235.0" x2="764.1" y2="1334.8" stroke="#000" stroke-width="4.2"/>
<polygon points="771.7,1365.5 748.5,1338.2 779.7,1331.5" fill="#000"/>
<line x1="1221.9" y1="1154.1" x2="1002.3" y2="1448.0" stroke="#000" stroke-width="4.2"/>
<polygon points="984.0,1468.7 990.3,1440.0 1014.3,1456.0" fill="#000"/>
<line x1="1249.0" y1="1309.0" x2="1105.2" y2="1452.7" stroke="#000" stroke-width="4.2"/>
<polygon points="1083.0,1472.0 1094.0,1443.0 1116.5,1462.4" fill="#000"/>
<g font-family="'Liberation Sans', Arial, sans-serif" fill="#000">
<text transform="translate(1322.0,639.0) scale(1.060,1.000)" font-size="102.5" text-anchor="middle">(i)</text>
<text transform="translate(722.2,1191.8) scale(1.050,1.000)" font-size="102.5" text-anchor="middle">(ii)</text>
<text transform="translate(1302.7,1115.5) scale(1.043,1.000)" font-size="102.5" text-anchor="middle">(iii)</text>
<text transform="translate(1341.0,1287.5) scale(1.020,1.000)" font-size="102.5" text-anchor="middle">(iv)</text>
</g>
<g fill="#000">
<rect x="376.7" y="1972.2" width="1881.2" height="13.5"/>
<rect x="376.7" y="3597.5" width="1881.2" height="13.5"/>
<rect x="376.7" y="1972.2" width="13.1" height="1638.8"/>
<rect x="2244.5" y="1972.2" width="13.4" height="1638.8"/>
<rect x="527.4" y="3576.6" width="7.8" height="21.4"/>
<rect x="672.7" y="3576.6" width="7.8" height="21.4"/>
<rect x="815.8" y="3576.6" width="7.8" height="21.4"/>
<rect x="958.5" y="3576.6" width="7.8" height="21.4"/>
<rect x="1104.2" y="3571.3" width="7.8" height="26.7"/>
<rect x="1247.3" y="3576.6" width="7.8" height="21.4"/>
<rect x="1392.6" y="3576.6" width="7.8" height="21.4"/>
<rect x="1535.7" y="3576.6" width="7.8" height="21.4"/>
<rect x="1678.4" y="3576.6" width="7.8" height="21.4"/>
<rect x="1824.1" y="3571.3" width="7.8" height="26.7"/>
<rect x="1966.8" y="3576.6" width="7.8" height="21.4"/>
<rect x="2109.8" y="3576.6" width="7.8" height="21.4"/>
</g>
<g font-family="'Liberation Sans', Arial, sans-serif" fill="#000">
<text x="383.2" y="3739.0" font-size="111" text-anchor="middle">4000</text>
<text x="1111.5" y="3739.0" font-size="111" text-anchor="middle">2000</text>
<text x="1829.0" y="3739.0" font-size="111" text-anchor="middle">1000</text>
<text x="2255.5" y="3739.0" font-size="111" text-anchor="middle">400</text>
<text x="838" y="3903" font-size="110">Wavenumber [cm<tspan font-size="74" dx="3.5" dy="-35.5">-</tspan><tspan font-size="74" dx="4.5">1</tspan><tspan dx="-4" dy="35.5">]</tspan></text>
<text transform="translate(173.5,2894.4) rotate(-90)" font-size="110" text-anchor="middle">Absorbance</text>
<text transform="translate(2113.8,2133.0) scale(1.026,0.980)" font-size="137" text-anchor="middle">(b)</text>
<text x="493.0" y="2113.0" font-size="88.5" text-anchor="start">Absorbance = 0.1</text>
</g>
<g fill="#000">
<rect x="450.6" y="2029.3" width="7.9" height="118.7"/>
<rect x="440.0" y="2029.3" width="29.0" height="5.7"/>
<rect x="440.0" y="2141.5" width="29.0" height="6.5"/>
</g>
<g fill="none" stroke="#000" stroke-linejoin="round">
<path d="M390.0,2577.1 C396.6,2577.1 436.0,2577.2 446.5,2577.1 C457.0,2577.0 470.1,2576.4 479.8,2576.4 C489.5,2576.4 520.4,2577.2 529.7,2577.1 C539.0,2577.0 553.8,2576.7 559.6,2575.4 C565.4,2574.1 575.3,2568.3 579.6,2566.1 C583.9,2563.9 592.3,2558.9 596.2,2556.2 C600.1,2553.5 609.6,2546.3 612.9,2542.8 C616.2,2539.3 622.2,2530.6 624.5,2526.2 C626.8,2521.8 630.7,2506.6 632.8,2505.0 C634.9,2503.4 640.5,2509.6 642.8,2512.9 C645.1,2516.2 649.7,2528.6 652.8,2532.9 C655.9,2537.2 665.1,2546.0 669.4,2549.5 C673.7,2553.0 685.5,2560.9 689.4,2562.8 C693.3,2564.7 698.0,2565.7 702.7,2566.1 C707.4,2566.5 723.9,2566.7 729.3,2566.1 C734.7,2565.5 746.4,2564.2 749.3,2561.1 C752.2,2558.0 753.2,2547.8 754.2,2539.5 C755.2,2531.2 756.8,2495.6 757.6,2489.6 C758.4,2483.6 759.9,2486.1 760.9,2488.0 C761.9,2489.9 764.7,2509.2 765.9,2506.3 C767.1,2503.4 769.7,2465.3 770.9,2463.0 C772.1,2460.7 774.1,2478.3 775.9,2486.3 C777.6,2494.3 784.2,2527.7 785.9,2531.2 C787.6,2534.7 789.6,2519.1 790.8,2516.2 C792.0,2513.3 794.6,2505.1 795.8,2506.3 C797.0,2507.5 799.4,2520.8 800.8,2526.2 C802.2,2531.6 805.4,2547.7 807.5,2552.8 C809.6,2557.9 814.6,2567.0 819.1,2569.5 C823.6,2572.0 838.7,2573.8 845.7,2574.5 C852.7,2575.2 866.9,2575.0 879.0,2575.4 C891.1,2575.8 929.9,2577.3 949.8,2577.8 C969.7,2578.3 1026.3,2579.1 1049.6,2579.4 C1072.9,2579.7 1131.9,2580.4 1149.4,2580.4 C1166.9,2580.4 1193.2,2579.5 1200.0,2579.0 C1206.8,2578.5 1205.8,2576.1 1207.6,2576.1 C1209.3,2576.1 1210.1,2578.7 1215.0,2579.0 C1219.9,2579.3 1237.5,2579.3 1249.2,2578.8 C1260.9,2578.3 1306.3,2575.1 1315.7,2574.5 C1325.1,2573.9 1327.4,2574.2 1330.0,2573.4 C1332.6,2572.6 1336.4,2569.7 1338.0,2567.4 C1339.6,2565.1 1342.8,2557.8 1344.0,2553.4 C1345.2,2549.0 1347.3,2538.0 1348.0,2529.4 C1348.7,2520.8 1349.3,2485.1 1350.0,2479.5 C1350.7,2473.9 1353.4,2477.7 1354.0,2481.5 C1354.6,2485.3 1354.3,2508.9 1355.0,2512.5 C1355.7,2516.1 1359.1,2517.5 1360.0,2512.5 C1360.9,2507.5 1362.3,2481.6 1363.0,2469.6 C1363.7,2457.6 1365.3,2420.3 1366.0,2409.7 C1366.7,2399.1 1368.3,2378.7 1368.9,2378.7 C1369.5,2378.7 1370.3,2401.4 1370.9,2409.7 C1371.5,2418.0 1373.0,2443.2 1373.9,2449.6 C1374.8,2456.0 1377.7,2458.4 1378.9,2464.6 C1380.1,2470.8 1382.6,2503.0 1383.9,2502.5 C1385.2,2502.0 1388.7,2462.1 1389.9,2460.6 C1391.1,2459.1 1392.9,2481.5 1393.9,2489.5 C1395.0,2497.5 1397.7,2524.5 1398.9,2529.4 C1400.1,2534.3 1402.5,2534.9 1403.9,2531.4 C1405.3,2527.9 1409.4,2509.0 1410.8,2499.5 C1412.2,2490.0 1414.8,2460.1 1415.8,2449.6 C1416.8,2439.1 1419.0,2415.2 1419.8,2409.7 C1420.6,2404.2 1421.9,2400.4 1422.8,2402.7 C1423.7,2405.0 1426.5,2420.6 1427.8,2429.6 C1429.1,2438.6 1432.5,2471.1 1433.8,2479.5 C1435.1,2487.9 1437.6,2501.5 1438.8,2501.5 C1440.0,2501.5 1442.8,2492.5 1443.8,2479.5 C1444.8,2466.5 1447.1,2404.8 1447.8,2389.7 C1448.5,2374.6 1449.1,2347.5 1449.8,2349.8 C1450.5,2352.1 1452.9,2394.6 1453.8,2409.7 C1454.7,2424.8 1456.5,2465.5 1457.7,2479.5 C1458.9,2493.5 1461.8,2521.6 1463.7,2529.4 C1465.6,2537.2 1471.8,2545.5 1473.7,2546.4 C1475.6,2547.3 1478.5,2545.2 1479.7,2537.4 C1480.9,2529.6 1482.8,2487.8 1483.7,2479.5 C1484.6,2471.2 1486.8,2468.2 1487.7,2466.6 C1488.6,2465.0 1490.8,2469.0 1491.7,2465.6 C1492.6,2462.2 1494.4,2437.1 1495.3,2437.6 C1496.2,2438.1 1498.7,2461.0 1499.7,2469.6 C1500.7,2478.2 1502.7,2509.2 1503.7,2511.5 C1504.7,2513.8 1507.7,2496.0 1508.6,2489.5 C1509.5,2483.0 1510.8,2459.6 1511.6,2455.6 C1512.4,2451.6 1514.9,2462.1 1515.6,2455.6 C1516.3,2449.1 1517.4,2399.2 1518.0,2399.7 C1518.6,2400.2 1519.8,2445.6 1520.6,2459.6 C1521.4,2473.6 1523.1,2510.0 1524.6,2519.5 C1526.1,2529.0 1531.8,2539.3 1533.6,2541.4 C1535.3,2543.5 1538.2,2540.9 1539.6,2537.4 C1541.0,2533.9 1544.2,2512.9 1545.6,2511.5 C1547.0,2510.1 1550.2,2526.1 1551.6,2525.4 C1553.0,2524.7 1556.1,2508.5 1557.5,2505.5 C1558.9,2502.5 1562.0,2505.1 1563.5,2499.5 C1565.0,2493.9 1568.9,2458.8 1570.5,2457.6 C1572.1,2456.4 1575.8,2482.3 1577.5,2489.5 C1579.2,2496.7 1583.4,2513.9 1585.5,2519.5 C1587.6,2525.1 1593.2,2536.7 1595.5,2537.4 C1597.8,2538.1 1603.5,2535.6 1605.4,2525.4 C1607.3,2515.2 1610.4,2465.4 1611.4,2449.6 C1612.5,2433.8 1613.7,2399.5 1614.4,2389.7 C1615.1,2379.9 1616.7,2367.9 1617.4,2365.8 C1618.1,2363.7 1619.3,2366.9 1620.0,2372.0 C1620.7,2377.1 1622.3,2401.3 1623.0,2409.7 C1623.7,2418.1 1624.8,2443.6 1626.0,2443.6 C1627.2,2443.6 1631.4,2408.2 1633.0,2409.7 C1634.6,2411.2 1638.6,2458.9 1640.0,2456.6 C1641.4,2454.3 1644.0,2405.1 1645.0,2389.7 C1646.0,2374.3 1648.1,2326.1 1649.0,2324.9 C1649.9,2323.7 1652.2,2366.3 1653.0,2379.7 C1653.8,2393.1 1655.1,2428.5 1656.0,2439.6 C1656.9,2450.7 1659.6,2474.6 1661.0,2474.6 C1662.4,2474.6 1666.1,2447.4 1668.0,2439.6 C1669.9,2431.8 1675.3,2408.9 1676.9,2407.7 C1678.5,2406.5 1680.6,2420.5 1681.9,2429.6 C1683.2,2438.7 1686.3,2481.5 1687.9,2485.5 C1689.5,2489.5 1694.2,2465.1 1695.8,2463.6 C1697.4,2462.1 1700.2,2475.0 1701.8,2472.6 C1703.4,2470.2 1708.2,2440.6 1709.8,2442.6 C1711.4,2444.6 1714.3,2480.4 1715.8,2489.5 C1717.3,2498.6 1721.3,2519.3 1722.8,2520.5 C1724.3,2521.7 1727.8,2510.1 1728.8,2499.5 C1729.8,2488.9 1731.0,2441.2 1731.8,2429.6 C1732.6,2418.0 1734.5,2398.5 1735.4,2399.7 C1736.3,2400.9 1738.8,2431.2 1739.8,2439.6 C1740.8,2448.0 1741.9,2466.5 1743.8,2471.6 C1745.7,2476.7 1752.9,2480.0 1755.7,2483.5 C1758.5,2487.0 1764.9,2499.1 1767.7,2501.5 C1770.5,2503.9 1777.4,2505.2 1779.7,2504.5 C1782.0,2503.8 1786.3,2501.9 1787.7,2495.5 C1789.1,2489.1 1790.5,2461.9 1791.7,2449.6 C1792.9,2437.3 1796.2,2393.2 1797.6,2389.7 C1799.0,2386.2 1802.4,2412.7 1803.6,2419.7 C1804.8,2426.7 1806.7,2444.9 1807.6,2449.6 C1808.5,2454.3 1810.2,2452.6 1811.6,2459.6 C1813.0,2466.6 1817.3,2500.7 1819.6,2509.5 C1821.9,2518.3 1829.5,2534.2 1831.6,2535.4 C1833.7,2536.6 1836.4,2527.2 1837.6,2519.5 C1838.8,2511.8 1840.8,2477.1 1841.6,2469.6 C1842.4,2462.1 1843.7,2452.1 1844.6,2455.6 C1845.5,2459.1 1848.0,2490.0 1849.5,2499.5 C1851.0,2509.0 1856.0,2533.4 1857.5,2537.4 C1859.0,2541.4 1861.5,2536.8 1862.5,2533.4 C1863.5,2530.0 1865.7,2508.5 1866.5,2508.5 C1867.3,2508.5 1868.5,2530.0 1869.5,2533.4 C1870.5,2536.8 1874.1,2535.5 1875.5,2537.4 C1876.9,2539.3 1879.4,2547.5 1881.5,2549.4 C1883.6,2551.3 1890.5,2553.9 1893.5,2553.4 C1896.5,2552.9 1904.4,2546.7 1907.4,2545.4 C1910.4,2544.1 1917.2,2542.9 1919.4,2542.4 C1921.6,2541.9 1924.5,2542.6 1926.3,2541.0 C1928.1,2539.4 1933.0,2529.1 1934.7,2529.0 C1936.4,2528.9 1939.4,2538.8 1940.7,2539.8 C1942.0,2540.8 1944.1,2542.1 1945.5,2537.4 C1946.9,2532.7 1951.3,2510.3 1952.7,2499.1 C1954.1,2487.9 1956.3,2455.3 1957.5,2441.6 C1958.7,2427.9 1961.5,2384.5 1962.8,2381.7 C1964.1,2378.9 1967.0,2407.9 1968.3,2417.7 C1969.6,2427.5 1972.8,2455.0 1974.3,2465.6 C1975.8,2476.2 1979.5,2502.0 1981.4,2508.7 C1983.3,2515.4 1988.5,2522.3 1991.0,2523.1 C1993.5,2523.9 2000.2,2518.1 2003.0,2515.9 C2005.8,2513.7 2012.8,2508.4 2015.0,2503.9 C2017.2,2499.4 2020.8,2483.9 2022.2,2477.5 C2023.6,2471.1 2025.8,2448.5 2026.9,2448.8 C2028.0,2449.1 2030.3,2475.7 2031.7,2479.9 C2033.1,2484.1 2036.9,2485.3 2038.9,2484.7 C2040.9,2484.1 2046.0,2477.6 2048.5,2475.1 C2051.0,2472.6 2057.3,2467.9 2060.5,2463.2 C2063.7,2458.5 2072.7,2437.9 2076.0,2434.4 C2079.3,2430.9 2086.5,2432.6 2089.2,2433.2 C2091.9,2433.8 2095.7,2436.3 2098.8,2439.2 C2101.9,2442.1 2112.0,2452.8 2115.6,2458.4 C2119.2,2464.0 2126.6,2480.3 2129.9,2487.1 C2133.2,2493.9 2141.8,2515.1 2144.3,2517.1 C2146.8,2519.1 2149.8,2504.6 2151.5,2503.9 C2153.2,2503.2 2157.0,2516.1 2158.7,2511.1 C2160.4,2506.1 2164.2,2461.1 2165.9,2460.8 C2167.6,2460.5 2171.3,2500.9 2173.0,2508.7 C2174.7,2516.5 2178.2,2524.2 2180.2,2527.8 C2182.2,2531.4 2187.4,2538.4 2189.8,2539.8 C2192.2,2541.2 2198.6,2543.4 2200.6,2539.8 C2202.6,2536.2 2205.1,2513.7 2206.6,2508.7 C2208.1,2503.7 2212.3,2496.7 2213.8,2496.7 C2215.3,2496.7 2218.4,2503.1 2219.8,2508.7 C2221.2,2514.3 2223.9,2540.3 2225.7,2544.6 C2227.5,2548.9 2233.1,2546.1 2235.3,2545.8 C2237.5,2545.5 2243.4,2542.6 2244.5,2542.2" stroke-width="3.8"/>
<path d="M390.0,3048.8 C393.0,3048.7 412.7,3048.8 416.0,3048.2 C419.3,3047.6 417.9,3043.7 418.5,3043.7 C419.1,3043.7 420.4,3048.0 421.0,3048.1 C421.6,3048.1 422.9,3044.1 423.5,3044.0 C424.1,3044.0 425.4,3047.3 426.0,3047.7 C426.6,3048.2 427.9,3047.9 428.5,3047.9 C429.1,3047.8 430.4,3047.5 431.0,3047.4 C431.6,3047.4 432.9,3047.4 433.5,3047.4 C434.1,3047.3 435.4,3047.6 436.0,3046.9 C436.6,3046.2 437.9,3041.7 438.5,3041.4 C439.1,3041.1 440.4,3043.4 441.0,3044.1 C441.6,3044.7 442.9,3046.6 443.5,3047.0 C444.1,3047.3 445.4,3047.0 446.0,3046.9 C446.6,3046.8 447.9,3046.5 448.5,3046.2 C449.1,3045.9 450.4,3044.2 451.0,3044.3 C451.6,3044.5 452.9,3047.0 453.5,3047.2 C454.1,3047.5 455.4,3046.6 456.0,3046.5 C456.6,3046.5 457.9,3046.9 458.5,3046.9 C459.1,3046.9 460.4,3046.9 461.0,3046.7 C461.6,3046.6 462.9,3045.6 463.5,3045.6 C464.1,3045.5 465.4,3046.0 466.0,3046.1 C466.6,3046.3 467.9,3047.0 468.5,3046.7 C469.1,3046.3 470.4,3043.3 471.0,3043.1 C471.6,3042.8 472.9,3044.6 473.5,3044.4 C474.1,3044.3 475.4,3041.6 476.0,3041.8 C476.6,3042.0 477.9,3045.8 478.5,3046.2 C479.1,3046.6 480.4,3045.3 481.0,3045.3 C481.6,3045.3 482.9,3046.1 483.5,3046.2 C484.1,3046.2 485.4,3045.9 486.0,3046.0 C486.6,3046.0 487.9,3046.3 488.5,3046.3 C489.1,3046.3 490.4,3046.5 491.0,3045.9 C491.6,3045.4 492.9,3041.6 493.5,3041.5 C494.1,3041.4 495.4,3044.7 496.0,3045.1 C496.6,3045.4 497.9,3044.7 498.5,3044.4 C499.1,3044.1 500.4,3042.4 501.0,3042.6 C501.6,3042.8 502.9,3045.4 503.5,3045.9 C504.1,3046.4 505.4,3046.5 506.0,3046.6 C506.6,3046.7 507.9,3046.6 508.5,3046.6 C509.1,3046.6 510.4,3047.3 511.0,3046.8 C511.6,3046.3 512.9,3042.8 513.5,3042.5 C514.1,3042.3 515.4,3044.3 516.0,3044.7 C516.6,3045.1 517.9,3045.7 518.5,3045.9 C519.1,3046.1 520.4,3046.3 521.0,3046.2 C521.6,3046.1 522.9,3045.3 523.5,3045.2 C524.1,3045.2 525.4,3045.5 526.0,3045.6 C526.6,3045.7 527.9,3045.8 528.5,3045.9 C529.1,3045.9 530.4,3045.9 531.0,3045.8 C531.6,3045.6 532.9,3044.7 533.5,3044.6 C534.1,3044.5 535.4,3044.5 536.0,3044.6 C536.6,3044.7 537.9,3045.6 538.5,3045.5 C539.1,3045.4 540.4,3044.0 541.0,3043.9 C541.6,3043.8 542.9,3044.7 543.5,3044.8 C544.1,3044.9 543.3,3045.1 546.3,3044.5 C549.3,3043.9 564.9,3041.1 569.6,3039.5 C574.3,3037.9 582.0,3033.9 586.3,3031.2 C590.6,3028.5 601.9,3020.3 606.2,3016.2 C610.5,3012.1 619.5,3001.4 622.8,2996.3 C626.1,2991.2 631.8,2973.1 634.5,2972.3 C637.2,2971.5 642.8,2985.4 646.1,2989.6 C649.4,2993.8 658.9,3004.8 662.8,3007.9 C666.7,3011.0 675.5,3014.5 679.4,3016.2 C683.3,3017.9 690.2,3021.6 696.0,3022.2 C701.8,3022.8 723.5,3022.3 729.3,3021.2 C735.1,3020.1 743.2,3014.3 745.9,3012.9 C748.6,3011.5 751.4,3017.0 752.6,3009.6 C753.8,3002.2 754.9,2961.0 755.9,2949.7 C756.9,2938.4 759.7,2916.0 760.9,2913.1 C762.1,2910.2 764.4,2935.6 765.9,2924.8 C767.4,2914.0 771.9,2825.5 773.5,2820.6 C775.1,2815.7 777.5,2866.2 779.2,2883.2 C781.0,2900.2 786.2,2964.4 788.5,2966.3 C790.8,2968.2 796.9,2903.7 798.5,2899.8 C800.1,2895.9 801.3,2920.7 802.5,2933.1 C803.7,2945.5 806.8,2995.2 809.1,3006.3 C811.4,3017.4 819.4,3024.8 822.5,3027.9 C825.6,3031.0 829.1,3032.1 835.7,3032.9 C842.3,3033.7 870.7,3034.3 879.0,3034.5 C887.3,3034.7 900.3,3034.0 906.6,3034.5 C912.9,3035.0 926.6,3038.0 933.2,3038.9 C939.8,3039.8 958.2,3041.0 963.1,3042.2 C968.0,3043.4 971.7,3049.0 974.8,3049.5 C977.9,3050.0 981.0,3046.6 989.7,3046.2 C998.4,3045.8 1031.0,3046.1 1049.6,3046.2 C1068.2,3046.3 1131.9,3047.2 1149.4,3046.8 C1166.9,3046.4 1192.3,3043.7 1199.3,3042.8 C1206.3,3041.9 1207.4,3039.5 1209.3,3039.5 C1211.2,3039.5 1212.4,3042.5 1215.9,3042.8 C1219.4,3043.1 1234.4,3042.5 1239.6,3042.1 C1244.8,3041.7 1256.4,3040.0 1260.5,3039.1 C1264.6,3038.2 1271.8,3036.2 1274.5,3034.0 C1277.2,3031.8 1281.6,3023.3 1283.8,3020.0 C1286.0,3016.7 1291.3,3008.4 1293.2,3006.0 C1295.1,3003.6 1298.9,3002.0 1300.1,2999.0 C1301.3,2996.0 1302.5,2986.1 1303.6,2980.4 C1304.7,2974.7 1308.1,2950.9 1309.5,2950.1 C1310.9,2949.3 1313.9,2966.9 1315.3,2973.4 C1316.7,2979.9 1319.7,3001.4 1321.1,3006.0 C1322.5,3010.6 1325.5,3011.8 1326.9,3013.0 C1328.3,3014.2 1331.4,3017.2 1332.7,3016.5 C1334.0,3015.8 1336.7,3009.8 1338.0,3007.3 C1339.3,3004.8 1342.8,3001.0 1344.0,2995.4 C1345.2,2989.8 1347.1,2968.7 1348.0,2959.4 C1348.9,2950.1 1351.1,2919.5 1352.0,2915.5 C1352.9,2911.5 1355.2,2921.9 1356.0,2925.5 C1356.8,2929.1 1358.2,2945.3 1358.9,2946.5 C1359.6,2947.7 1361.2,2943.3 1361.9,2935.5 C1362.6,2927.7 1364.2,2890.8 1364.9,2879.6 C1365.6,2868.4 1367.2,2846.5 1367.9,2839.7 C1368.6,2832.9 1370.2,2820.5 1370.9,2821.7 C1371.6,2822.9 1373.2,2842.5 1373.9,2849.7 C1374.6,2856.9 1376.1,2878.2 1376.9,2883.6 C1377.7,2889.0 1379.7,2889.1 1380.9,2895.6 C1382.1,2902.1 1385.7,2938.3 1386.9,2939.5 C1388.1,2940.7 1390.1,2906.7 1390.9,2905.5 C1391.7,2904.3 1393.0,2920.9 1393.9,2929.5 C1394.8,2938.1 1397.9,2972.9 1398.9,2979.4 C1400.0,2985.9 1401.6,2986.6 1402.9,2985.4 C1404.2,2984.2 1408.3,2977.1 1409.8,2969.4 C1411.3,2961.7 1414.6,2933.5 1415.8,2919.5 C1417.0,2905.5 1418.9,2859.2 1419.8,2849.7 C1420.7,2840.2 1422.8,2836.5 1423.8,2837.7 C1424.8,2838.9 1427.6,2851.2 1428.8,2859.6 C1430.0,2868.0 1432.6,2901.2 1433.8,2909.5 C1435.0,2917.8 1437.6,2930.5 1438.8,2930.5 C1440.0,2930.5 1442.9,2922.4 1443.8,2909.5 C1444.7,2896.6 1446.0,2839.6 1446.8,2819.7 C1447.6,2799.8 1450.0,2741.2 1450.8,2738.9 C1451.6,2736.6 1453.0,2779.9 1453.8,2799.8 C1454.6,2819.7 1456.7,2888.1 1457.7,2909.5 C1458.7,2930.9 1461.3,2973.8 1462.7,2983.4 C1464.1,2993.0 1468.4,2989.5 1469.7,2991.4 C1471.0,2993.3 1472.5,2999.4 1473.7,2999.4 C1474.9,2999.4 1478.5,3000.7 1479.7,2991.4 C1480.9,2982.1 1482.8,2933.0 1483.7,2919.5 C1484.6,2906.0 1486.8,2880.5 1487.7,2875.6 C1488.6,2870.7 1490.8,2880.6 1491.7,2877.6 C1492.6,2874.6 1494.8,2849.5 1495.7,2849.7 C1496.6,2849.9 1498.8,2869.2 1499.7,2879.6 C1500.6,2890.0 1502.8,2932.7 1503.7,2938.5 C1504.6,2944.3 1506.7,2936.6 1507.6,2929.5 C1508.5,2922.4 1510.7,2882.3 1511.6,2877.6 C1512.5,2872.9 1514.8,2894.3 1515.6,2889.6 C1516.4,2884.9 1517.9,2838.9 1518.6,2837.7 C1519.3,2836.5 1520.9,2866.6 1521.6,2879.6 C1522.3,2892.6 1523.7,2938.3 1524.6,2949.5 C1525.5,2960.7 1528.1,2971.6 1529.6,2975.4 C1531.1,2979.2 1536.2,2982.6 1537.6,2982.4 C1539.0,2982.2 1540.7,2977.4 1541.6,2973.4 C1542.5,2969.4 1544.7,2951.1 1545.6,2948.5 C1546.5,2945.9 1548.5,2950.5 1549.6,2951.5 C1550.6,2952.5 1553.6,2959.2 1554.6,2957.4 C1555.6,2955.7 1557.5,2939.1 1558.5,2936.5 C1559.5,2933.9 1562.1,2940.6 1563.5,2935.5 C1564.9,2930.4 1568.9,2894.5 1570.5,2892.6 C1572.1,2890.7 1575.8,2912.9 1577.5,2919.5 C1579.2,2926.1 1583.3,2943.3 1585.5,2949.5 C1587.7,2955.7 1594.3,2971.5 1596.5,2972.4 C1598.7,2973.3 1602.9,2968.2 1604.5,2957.4 C1606.1,2946.6 1609.2,2898.0 1610.4,2879.6 C1611.6,2861.2 1613.5,2813.1 1614.4,2799.8 C1615.3,2786.5 1617.7,2769.0 1618.4,2765.8 C1619.1,2762.6 1620.0,2766.9 1620.5,2772.0 C1621.0,2777.1 1622.4,2801.1 1623.0,2809.7 C1623.6,2818.3 1625.2,2840.1 1626.0,2845.7 C1626.8,2851.3 1629.2,2856.0 1630.0,2857.6 C1630.8,2859.2 1632.1,2856.1 1633.0,2859.6 C1633.9,2863.1 1637.0,2887.6 1638.0,2887.6 C1639.0,2887.6 1641.2,2874.5 1642.0,2859.6 C1642.8,2844.7 1644.2,2777.3 1645.0,2759.8 C1645.8,2742.3 1648.0,2709.9 1648.9,2709.9 C1649.8,2709.9 1652.1,2744.7 1652.9,2759.8 C1653.7,2774.9 1655.2,2826.2 1655.9,2839.7 C1656.6,2853.2 1658.2,2870.6 1658.9,2875.6 C1659.6,2880.6 1661.0,2883.3 1661.9,2882.6 C1662.8,2881.9 1665.7,2876.9 1666.9,2869.6 C1668.1,2862.3 1670.9,2826.6 1671.9,2819.7 C1673.0,2812.8 1675.0,2809.5 1675.9,2810.7 C1676.8,2811.9 1679.0,2822.8 1679.9,2829.7 C1680.8,2836.6 1683.0,2861.0 1683.9,2869.6 C1684.8,2878.2 1686.6,2901.7 1687.9,2903.6 C1689.2,2905.5 1693.3,2886.7 1694.9,2885.6 C1696.5,2884.5 1700.5,2897.6 1701.8,2894.6 C1703.1,2891.6 1704.9,2864.7 1705.8,2859.6 C1706.7,2854.5 1708.9,2849.5 1709.8,2850.7 C1710.7,2851.9 1712.9,2859.2 1713.8,2869.6 C1714.7,2880.0 1716.8,2928.6 1717.8,2939.5 C1718.8,2950.4 1721.6,2962.2 1722.8,2963.4 C1724.0,2964.6 1726.8,2961.6 1727.8,2949.5 C1728.8,2937.4 1731.1,2875.0 1731.8,2859.6 C1732.5,2844.2 1733.5,2820.0 1734.2,2817.7 C1734.9,2815.4 1736.9,2827.8 1737.8,2839.7 C1738.7,2851.6 1740.4,2904.1 1741.8,2919.5 C1743.2,2934.9 1747.6,2964.6 1749.7,2971.4 C1751.8,2978.2 1757.1,2975.4 1759.7,2977.4 C1762.3,2979.4 1768.7,2988.4 1771.7,2988.4 C1774.7,2988.4 1783.6,2983.1 1785.7,2977.4 C1787.8,2971.7 1788.8,2952.1 1789.7,2939.5 C1790.6,2926.9 1792.8,2882.4 1793.7,2869.6 C1794.6,2856.8 1796.3,2829.7 1797.2,2829.7 C1798.1,2829.7 1800.6,2858.0 1801.6,2869.6 C1802.6,2881.2 1804.0,2917.9 1805.6,2929.5 C1807.2,2941.1 1813.0,2963.1 1815.6,2969.4 C1818.2,2975.7 1825.3,2982.9 1827.6,2983.4 C1829.9,2983.9 1834.1,2980.9 1835.6,2973.4 C1837.1,2965.9 1839.5,2929.3 1840.6,2919.5 C1841.6,2909.7 1843.6,2888.4 1844.6,2889.6 C1845.6,2890.8 1848.2,2920.4 1849.5,2929.5 C1850.8,2938.6 1854.1,2962.4 1855.5,2967.4 C1856.9,2972.4 1860.3,2975.2 1861.5,2972.4 C1862.7,2969.6 1865.0,2944.1 1865.9,2943.5 C1866.8,2942.9 1868.5,2964.1 1869.5,2967.4 C1870.5,2970.7 1873.1,2969.3 1874.5,2971.4 C1875.9,2973.5 1879.1,2983.1 1881.5,2985.4 C1883.9,2987.7 1892.1,2990.6 1895.4,2991.4 C1898.7,2992.2 1906.5,2992.7 1909.6,2992.6 C1912.7,2992.5 1919.4,2991.7 1921.6,2990.2 C1923.8,2988.7 1927.2,2981.4 1928.7,2979.4 C1930.2,2977.4 1933.4,2971.9 1934.7,2973.4 C1936.0,2974.9 1938.2,2990.5 1939.5,2992.6 C1940.8,2994.7 1944.0,2994.3 1945.5,2991.4 C1947.0,2988.5 1951.4,2975.8 1952.7,2967.4 C1954.0,2959.0 1955.5,2930.5 1956.3,2919.5 C1957.1,2908.5 1958.6,2874.2 1959.4,2872.8 C1960.2,2871.4 1962.5,2898.4 1963.5,2907.5 C1964.5,2916.6 1966.8,2942.5 1968.3,2950.7 C1969.8,2958.9 1974.0,2975.3 1976.6,2978.2 C1979.2,2981.1 1988.5,2977.1 1991.0,2975.8 C1993.5,2974.5 1996.2,2970.9 1998.2,2967.4 C2000.2,2963.9 2005.8,2950.4 2007.8,2945.9 C2009.8,2941.4 2013.6,2935.0 2015.0,2929.1 C2016.4,2923.2 2018.7,2902.7 2019.8,2895.6 C2020.9,2888.5 2023.5,2866.3 2024.6,2868.0 C2025.7,2869.7 2028.2,2903.3 2029.3,2909.9 C2030.4,2916.5 2032.7,2922.9 2034.1,2924.3 C2035.5,2925.7 2039.1,2923.9 2041.3,2921.9 C2043.5,2919.9 2050.8,2910.6 2053.3,2907.5 C2055.8,2904.4 2060.5,2899.8 2062.9,2895.6 C2065.3,2891.4 2071.1,2875.0 2073.7,2871.6 C2076.3,2868.2 2082.7,2866.7 2085.6,2866.8 C2088.5,2866.9 2095.9,2871.1 2098.8,2872.8 C2101.7,2874.5 2108.0,2877.7 2110.8,2881.2 C2113.6,2884.7 2120.0,2897.8 2122.8,2902.8 C2125.6,2907.8 2132.3,2920.3 2134.7,2924.3 C2137.1,2928.3 2141.4,2936.5 2143.1,2937.5 C2144.8,2938.5 2147.7,2932.0 2149.1,2932.7 C2150.5,2933.4 2153.5,2948.8 2155.1,2943.5 C2156.7,2938.2 2161.5,2890.0 2163.0,2887.2 C2164.5,2884.4 2167.1,2912.4 2168.3,2919.5 C2169.5,2926.6 2171.1,2943.1 2173.0,2948.3 C2174.9,2953.5 2182.3,2962.0 2185.0,2963.8 C2187.7,2965.6 2193.8,2967.6 2195.8,2963.8 C2197.8,2960.0 2200.5,2938.1 2201.8,2931.5 C2203.1,2924.9 2205.1,2908.9 2206.6,2907.5 C2208.1,2906.1 2213.6,2913.9 2215.0,2919.5 C2216.4,2925.1 2217.6,2949.4 2218.6,2955.4 C2219.6,2961.4 2221.7,2969.9 2223.4,2971.0 C2225.1,2972.1 2230.4,2964.0 2232.9,2965.0 C2235.4,2966.0 2243.1,2977.7 2244.5,2979.4" stroke-width="3.8"/>
<path d="M390.0,3534.5 C392.6,3534.4 409.1,3533.4 412.0,3533.3 C414.9,3533.3 413.9,3534.1 414.5,3534.1 C415.1,3534.1 416.4,3533.1 417.0,3533.1 C417.6,3533.1 418.9,3534.5 419.5,3534.3 C420.1,3534.0 421.4,3531.5 422.0,3530.8 C422.6,3530.1 423.9,3527.8 424.5,3528.2 C425.1,3528.6 426.4,3533.4 427.0,3534.1 C427.6,3534.7 428.9,3533.9 429.5,3533.8 C430.1,3533.7 431.4,3533.8 432.0,3533.2 C432.6,3532.7 433.9,3529.3 434.5,3529.3 C435.1,3529.3 436.4,3533.3 437.0,3533.3 C437.6,3533.3 438.9,3529.7 439.5,3529.5 C440.1,3529.4 441.4,3531.6 442.0,3532.0 C442.6,3532.4 443.9,3533.0 444.5,3533.0 C445.1,3533.0 446.4,3532.1 447.0,3532.2 C447.6,3532.2 448.9,3533.8 449.5,3533.6 C450.1,3533.3 451.4,3530.2 452.0,3530.2 C452.6,3530.2 453.9,3533.1 454.5,3533.4 C455.1,3533.7 456.4,3533.8 457.0,3533.1 C457.6,3532.4 458.9,3527.7 459.5,3527.5 C460.1,3527.3 461.4,3531.2 462.0,3531.7 C462.6,3532.2 463.9,3531.9 464.5,3532.1 C465.1,3532.2 466.4,3533.0 467.0,3533.1 C467.6,3533.2 468.9,3533.4 469.5,3533.0 C470.1,3532.7 471.4,3530.9 472.0,3530.2 C472.6,3529.6 473.9,3527.9 474.5,3527.8 C475.1,3527.7 476.4,3528.7 477.0,3529.2 C477.6,3529.7 478.9,3531.6 479.5,3532.0 C480.1,3532.4 481.4,3533.0 482.0,3532.8 C482.6,3532.6 483.9,3530.5 484.5,3530.5 C485.1,3530.5 486.4,3532.4 487.0,3532.6 C487.6,3532.8 488.9,3532.2 489.5,3532.2 C490.1,3532.2 491.4,3532.3 492.0,3532.2 C492.6,3532.1 493.9,3531.3 494.5,3531.3 C495.1,3531.3 496.4,3531.9 497.0,3532.0 C497.6,3532.1 498.9,3532.2 499.5,3532.1 C500.1,3532.0 501.4,3531.0 502.0,3531.0 C502.6,3531.1 503.9,3532.3 504.5,3532.5 C505.1,3532.7 506.4,3532.6 507.0,3532.6 C507.6,3532.5 508.9,3532.1 509.5,3531.8 C510.1,3531.6 511.4,3530.5 512.0,3530.4 C512.6,3530.3 513.9,3530.8 514.5,3531.0 C515.1,3531.3 516.4,3532.8 517.0,3532.7 C517.6,3532.6 518.9,3530.4 519.5,3530.3 C520.1,3530.3 521.4,3531.9 522.0,3532.2 C522.6,3532.4 523.9,3532.6 524.5,3532.4 C525.1,3532.2 526.4,3530.4 527.0,3530.4 C527.6,3530.3 528.9,3531.8 529.5,3532.1 C530.1,3532.3 531.4,3532.3 532.0,3532.4 C532.6,3532.4 533.9,3532.3 534.5,3532.3 C535.1,3532.3 536.4,3532.5 537.0,3532.5 C537.6,3532.5 538.9,3532.1 539.5,3532.1 C540.1,3532.1 541.4,3532.1 542.0,3532.2 C542.6,3532.2 543.9,3532.7 544.5,3532.6 C545.1,3532.4 546.4,3530.7 547.0,3530.6 C547.6,3530.6 548.9,3531.9 549.5,3532.2 C550.1,3532.4 551.4,3532.8 552.0,3532.7 C552.6,3532.6 553.9,3531.3 554.5,3531.2 C555.1,3531.2 556.4,3532.0 557.0,3532.1 C557.6,3532.2 558.9,3532.3 559.5,3532.3 C560.1,3532.3 561.4,3532.1 562.0,3532.1 C562.6,3532.2 563.9,3532.5 564.5,3532.5 C565.1,3532.5 566.4,3532.2 567.0,3532.2 C567.6,3532.2 568.9,3532.3 569.5,3532.3 C570.1,3532.2 571.4,3532.3 572.0,3532.0 C572.6,3531.7 573.9,3529.9 574.5,3529.9 C575.1,3529.9 576.4,3531.7 577.0,3531.9 C577.6,3532.1 578.9,3532.0 579.5,3531.8 C580.1,3531.7 581.4,3530.5 582.0,3530.4 C582.6,3530.2 583.9,3530.6 584.5,3530.5 C585.1,3530.5 586.4,3529.9 587.0,3530.0 C587.6,3530.1 586.5,3531.7 589.5,3531.5 C592.5,3531.4 606.3,3530.0 612.9,3528.9 C619.5,3527.8 638.3,3524.3 646.1,3522.2 C653.9,3520.1 672.4,3513.6 679.4,3511.2 C686.4,3508.8 700.2,3503.2 706.0,3501.3 C711.8,3499.4 725.8,3496.0 729.3,3494.6 C732.8,3493.2 734.6,3491.9 736.0,3489.6 C737.4,3487.3 739.5,3474.8 740.9,3474.7 C742.3,3474.6 746.2,3488.0 747.6,3489.0 C749.0,3490.0 751.4,3489.5 752.6,3483.0 C753.8,3476.5 756.4,3440.5 757.6,3433.1 C758.8,3425.7 761.6,3427.6 762.6,3419.8 C763.6,3412.0 764.9,3386.9 765.9,3366.5 C766.9,3346.1 769.7,3246.5 770.9,3244.6 C772.1,3242.7 774.7,3329.9 775.9,3349.9 C777.1,3369.9 779.7,3405.9 780.9,3416.4 C782.1,3426.9 785.2,3439.7 786.5,3439.7 C787.8,3439.7 790.6,3430.4 791.8,3416.4 C793.0,3402.4 795.5,3320.0 796.5,3320.0 C797.5,3320.0 799.7,3398.2 800.8,3416.4 C801.9,3434.6 804.0,3467.0 805.8,3476.3 C807.5,3485.6 813.1,3493.0 815.8,3496.3 C818.5,3499.6 824.8,3503.6 829.1,3504.6 C833.4,3505.6 848.4,3504.9 852.4,3504.6 C856.4,3504.3 859.7,3501.9 863.3,3502.3 C866.9,3502.7 878.2,3506.9 883.3,3507.9 C888.4,3508.9 900.8,3509.8 906.6,3511.2 C912.4,3512.6 926.6,3518.6 933.2,3520.2 C939.8,3521.8 958.4,3523.1 963.1,3524.6 C967.8,3526.1 970.0,3532.3 973.1,3532.9 C976.2,3533.5 986.6,3530.3 989.7,3529.5 C992.8,3528.7 992.7,3526.4 999.7,3526.2 C1006.7,3526.0 1036.0,3527.6 1049.6,3527.9 C1063.2,3528.2 1100.6,3529.3 1116.1,3528.9 C1131.6,3528.5 1167.2,3526.0 1182.7,3524.6 C1198.2,3523.2 1239.1,3518.7 1249.2,3516.9 C1259.3,3515.2 1265.7,3512.4 1269.2,3509.6 C1272.7,3506.8 1276.8,3495.8 1279.1,3492.9 C1281.4,3490.0 1287.2,3488.5 1289.1,3484.6 C1291.0,3480.7 1294.4,3469.6 1295.8,3459.7 C1297.2,3449.8 1299.9,3424.7 1300.8,3399.8 C1301.7,3374.9 1303.0,3272.0 1303.6,3245.9 C1304.2,3219.8 1305.3,3191.4 1306.0,3176.0 C1306.7,3160.6 1308.8,3114.3 1309.5,3114.3 C1310.2,3114.3 1311.1,3157.9 1311.8,3176.0 C1312.5,3194.1 1314.4,3245.0 1315.3,3269.2 C1316.2,3293.4 1318.2,3364.9 1319.1,3383.2 C1320.0,3401.5 1322.0,3415.6 1323.2,3425.8 C1324.4,3436.0 1327.7,3462.5 1329.6,3470.5 C1331.5,3478.5 1336.8,3491.7 1339.2,3494.5 C1341.6,3497.3 1348.1,3493.0 1350.3,3494.5 C1352.5,3496.0 1356.2,3505.1 1358.3,3507.3 C1360.4,3509.5 1364.9,3512.3 1367.9,3513.6 C1370.9,3514.9 1379.1,3517.8 1383.9,3518.4 C1388.7,3519.0 1405.5,3520.1 1409.4,3518.4 C1413.3,3516.7 1415.9,3504.2 1417.4,3504.1 C1418.9,3504.0 1420.7,3517.1 1422.2,3517.8 C1423.7,3518.5 1428.0,3511.0 1430.2,3510.5 C1432.4,3510.0 1438.6,3514.5 1441.4,3513.6 C1444.2,3512.7 1452.1,3502.3 1454.1,3502.5 C1456.1,3502.7 1456.7,3514.3 1458.9,3515.2 C1461.1,3516.1 1471.1,3512.7 1473.3,3510.5 C1475.5,3508.3 1477.0,3505.6 1478.1,3496.1 C1479.2,3486.6 1481.4,3437.9 1482.9,3429.0 C1484.4,3420.1 1489.2,3417.2 1490.9,3419.4 C1492.6,3421.6 1495.8,3444.7 1497.3,3448.2 C1498.8,3451.7 1502.3,3450.2 1503.6,3449.8 C1504.9,3449.4 1506.9,3445.2 1508.4,3445.0 C1509.9,3444.8 1514.5,3450.4 1516.4,3448.2 C1518.3,3446.0 1522.7,3424.7 1524.4,3425.8 C1526.1,3426.9 1529.1,3449.8 1530.8,3457.8 C1532.5,3465.8 1537.3,3490.0 1538.8,3494.5 C1540.3,3499.0 1542.5,3497.0 1543.6,3496.1 C1544.7,3495.2 1547.1,3486.7 1548.4,3486.5 C1549.7,3486.3 1552.8,3493.8 1554.8,3494.5 C1556.8,3495.2 1563.5,3493.8 1565.9,3492.9 C1568.3,3492.0 1573.3,3487.4 1575.5,3486.5 C1577.7,3485.6 1583.2,3486.8 1585.1,3484.9 C1587.0,3483.0 1589.6,3473.7 1591.5,3470.5 C1593.4,3467.3 1599.1,3461.5 1601.1,3457.8 C1603.1,3454.1 1607.1,3442.7 1609.0,3438.6 C1610.9,3434.5 1614.9,3422.0 1617.0,3422.6 C1619.1,3423.2 1624.4,3440.4 1626.6,3443.4 C1628.8,3446.4 1634.1,3448.6 1636.2,3448.2 C1638.3,3447.8 1642.1,3440.0 1644.2,3440.2 C1646.3,3440.4 1651.4,3449.1 1653.8,3449.8 C1656.2,3450.5 1662.9,3446.4 1664.9,3446.6 C1666.9,3446.8 1669.1,3447.7 1671.3,3451.4 C1673.5,3455.1 1680.4,3473.8 1684.1,3478.5 C1687.8,3483.2 1698.5,3488.9 1703.3,3491.3 C1708.1,3493.7 1721.9,3499.0 1725.6,3499.3 C1729.3,3499.6 1732.8,3493.5 1735.2,3493.5 C1737.6,3493.5 1743.8,3499.3 1746.4,3499.3 C1749.0,3499.3 1754.4,3493.2 1757.6,3493.5 C1760.8,3493.8 1768.7,3500.8 1773.5,3501.8 C1778.3,3502.8 1794.6,3502.1 1799.1,3501.8 C1803.6,3501.5 1807.8,3500.7 1811.9,3499.3 C1816.0,3497.9 1830.2,3493.1 1834.3,3489.7 C1838.4,3486.3 1844.1,3476.1 1847.1,3470.5 C1850.1,3464.9 1857.2,3446.6 1859.8,3441.8 C1862.4,3437.0 1867.2,3430.5 1869.4,3429.6 C1871.6,3428.7 1876.4,3431.3 1879.0,3433.8 C1881.6,3436.3 1888.4,3447.3 1891.8,3451.4 C1895.2,3455.5 1904.1,3465.6 1907.8,3468.9 C1911.5,3472.2 1920.4,3478.1 1923.7,3479.5 C1927.0,3480.9 1933.1,3479.8 1936.5,3480.7 C1939.9,3481.6 1947.3,3486.4 1952.5,3487.1 C1957.7,3487.8 1975.6,3488.1 1981.2,3487.1 C1986.8,3486.1 1996.7,3481.9 2000.4,3478.5 C2004.1,3475.1 2010.6,3465.6 2013.2,3457.8 C2015.8,3450.0 2020.5,3413.3 2022.7,3411.4 C2024.9,3409.5 2030.1,3436.9 2032.3,3441.8 C2034.5,3446.7 2038.9,3450.8 2041.9,3453.0 C2044.9,3455.2 2054.6,3458.1 2057.9,3460.9 C2061.2,3463.7 2067.3,3475.2 2070.6,3476.9 C2073.9,3478.6 2083.2,3475.2 2086.6,3475.3 C2090.0,3475.4 2096.8,3477.7 2099.4,3477.6 C2102.0,3477.5 2106.0,3473.7 2109.0,3474.4 C2112.0,3475.1 2121.2,3481.5 2124.9,3483.3 C2128.6,3485.1 2136.4,3489.9 2140.9,3489.7 C2145.4,3489.5 2158.8,3483.2 2163.3,3481.7 C2167.8,3480.2 2175.9,3478.7 2179.2,3476.9 C2182.5,3475.2 2189.0,3467.7 2192.0,3466.7 C2195.0,3465.7 2202.4,3468.3 2204.8,3468.0 C2207.2,3467.7 2210.6,3462.3 2212.8,3464.1 C2215.0,3465.9 2221.5,3480.6 2223.9,3483.3 C2226.3,3486.0 2231.1,3487.3 2233.5,3487.1 C2235.9,3486.9 2243.2,3482.3 2244.5,3481.7" stroke-width="3.8"/>
<path d="M581.3,2511.0 C581.5,2489.0 582.9,2480.3 583.9,2472.3 Q584.9,2466.3 589.3,2466.3 L628.5,2466.3 M640.5,2466.3 L681.4,2466.3 Q685.8,2466.3 686.8,2472.3 C687.8,2480.3 689.2,2489.0 689.4,2511.0" stroke-width="4.9"/>
<path d="M722.6,2481.3 C722.8,2459.3 724.2,2448.7 725.2,2440.7 Q726.2,2434.7 730.6,2434.7 L771.5,2434.7 M783.5,2434.7 L822.8,2434.7 Q827.2,2434.7 828.2,2440.7 C829.2,2448.7 830.6,2459.3 830.8,2481.3" stroke-width="4.9"/>
<path d="M1347.5,2344.8 C1347.7,2322.8 1349.1,2313.9 1350.1,2305.9 Q1351.1,2299.9 1355.5,2299.9 L1519.2,2299.9 M1531.2,2299.9 L1693.8,2299.9 Q1698.2,2299.9 1699.2,2305.9 C1700.2,2313.9 1701.6,2322.8 1701.8,2344.8" stroke-width="4.9"/>
<path d="M1715.4,2392.7 C1715.6,2370.7 1717.0,2361.8 1718.0,2353.8 Q1719.0,2347.8 1723.4,2347.8 L1759.7,2347.8 M1771.7,2347.8 L1808.0,2347.8 Q1812.4,2347.8 1813.4,2353.8 C1814.4,2361.8 1815.8,2370.7 1816.0,2392.7" stroke-width="4.9"/>
<path d="M1934.7,2392.5 C1934.9,2370.5 1936.3,2361.0 1937.3,2353.0 Q1938.3,2347.0 1942.7,2347.0 L1983.1,2347.0 M1995.1,2347.0 L2035.2,2347.0 Q2039.6,2347.0 2040.6,2353.0 C2041.6,2361.0 2043.0,2370.5 2043.2,2392.5" stroke-width="4.9"/>
<path d="M580.3,2982.3 C580.5,2960.3 581.9,2951.0 582.9,2943.0 Q583.9,2937.0 588.3,2937.0 L628.8,2937.0 M640.8,2937.0 L680.7,2937.0 Q685.1,2937.0 686.1,2943.0 C687.1,2951.0 688.5,2960.3 688.7,2982.3" stroke-width="4.9"/>
<path d="M731.0,2831.2 C731.2,2809.2 732.6,2800.3 733.6,2792.3 Q734.6,2786.3 739.0,2786.3 L779.2,2786.3 M791.2,2786.3 L831.7,2786.3 Q836.1,2786.3 837.1,2792.3 C838.1,2800.3 839.5,2809.2 839.7,2831.2" stroke-width="4.9"/>
<path d="M1271.0,2950.1 C1271.2,2928.1 1272.6,2919.4 1273.6,2911.4 Q1274.6,2905.4 1279.0,2905.4 L1298.1,2905.4 M1310.1,2905.4 L1329.4,2905.4 Q1333.8,2905.4 1334.8,2911.4 C1335.8,2919.4 1337.2,2928.1 1337.4,2950.1" stroke-width="4.9"/>
<path d="M1347.3,2725.8 C1347.5,2703.8 1348.9,2695.1 1349.9,2687.1 Q1350.9,2681.1 1355.3,2681.1 L1519.1,2681.1 M1531.1,2681.1 L1694.0,2681.1 Q1698.4,2681.1 1699.4,2687.1 C1700.4,2695.1 1701.8,2703.8 1702.0,2725.8" stroke-width="4.9"/>
<path d="M1715.4,2826.7 C1715.6,2804.7 1717.0,2795.8 1718.0,2787.8 Q1719.0,2781.8 1723.4,2781.8 L1759.7,2781.8 M1771.7,2781.8 L1808.0,2781.8 Q1812.4,2781.8 1813.4,2787.8 C1814.4,2795.8 1815.8,2804.7 1816.0,2826.7" stroke-width="4.9"/>
<path d="M1932.3,2871.6 C1932.5,2849.6 1933.9,2838.9 1934.9,2830.9 Q1935.9,2824.9 1940.3,2824.9 L1980.7,2824.9 M1992.7,2824.9 L2032.8,2824.9 Q2037.2,2824.9 2038.2,2830.9 C2039.2,2838.9 2040.6,2849.6 2040.8,2871.6" stroke-width="4.9"/>
<path d="M731.0,3254.6 C731.2,3232.6 732.6,3224.3 733.6,3216.3 Q734.6,3210.3 739.0,3210.3 L779.2,3210.3 M791.2,3210.3 L831.7,3210.3 Q836.1,3210.3 837.1,3216.3 C838.1,3224.3 839.5,3232.6 839.7,3254.6" stroke-width="4.9"/>
<path d="M1271.0,3130.6 C1271.2,3108.6 1272.6,3099.2 1273.6,3091.2 Q1274.6,3085.2 1279.0,3085.2 L1298.1,3085.2 M1310.1,3085.2 L1329.4,3085.2 Q1333.8,3085.2 1334.8,3091.2 C1335.8,3099.2 1337.2,3108.6 1337.4,3130.6" stroke-width="4.9"/>
</g>
<g fill="#000">
<path d="M625.5,2468.8 Q630.3,2465.3 630.3,2454.3 L631.4,2423.0 L637.6,2423.0 L638.7,2454.3 Q638.7,2465.3 643.5,2468.8 Z"/>
<path d="M768.5,2437.2 Q773.3,2433.7 773.3,2422.7 L774.4,2391.5 L780.6,2391.5 L781.7,2422.7 Q781.7,2433.7 786.5,2437.2 Z"/>
<path d="M1516.2,2302.4 Q1521.0,2298.9 1521.0,2287.9 L1522.1,2256.0 L1528.3,2256.0 L1529.4,2287.9 Q1529.4,2298.9 1534.2,2302.4 Z"/>
<path d="M1756.7,2350.3 Q1761.5,2346.8 1761.5,2335.8 L1762.6,2303.9 L1768.8,2303.9 L1769.9,2335.8 Q1769.9,2346.8 1774.7,2350.3 Z"/>
<path d="M1980.1,2349.5 Q1984.9,2346.0 1984.9,2335.0 L1986.0,2303.9 L1992.2,2303.9 L1993.3,2335.0 Q1993.3,2346.0 1998.1,2349.5 Z"/>
<path d="M625.8,2939.5 Q630.6,2936.0 630.6,2925.0 L631.7,2894.8 L637.9,2894.8 L639.0,2925.0 Q639.0,2936.0 643.8,2939.5 Z"/>
<path d="M776.2,2788.8 Q781.0,2785.3 781.0,2774.3 L782.1,2743.0 L788.3,2743.0 L789.4,2774.3 Q789.4,2785.3 794.2,2788.8 Z"/>
<path d="M1295.1,2907.9 Q1299.9,2904.4 1299.9,2893.4 L1301.0,2861.6 L1307.2,2861.6 L1308.3,2893.4 Q1308.3,2904.4 1313.1,2907.9 Z"/>
<path d="M1516.1,2683.6 Q1520.9,2680.1 1520.9,2669.1 L1522.0,2636.7 L1528.2,2636.7 L1529.3,2669.1 Q1529.3,2680.1 1534.1,2683.6 Z"/>
<path d="M1756.7,2784.3 Q1761.5,2780.8 1761.5,2769.8 L1762.6,2737.9 L1768.8,2737.9 L1769.9,2769.8 Q1769.9,2780.8 1774.7,2784.3 Z"/>
<path d="M1977.7,2827.4 Q1982.5,2823.9 1982.5,2812.9 L1983.6,2779.4 L1989.8,2779.4 L1990.9,2812.9 Q1990.9,2823.9 1995.7,2827.4 Z"/>
<path d="M776.2,3212.8 Q781.0,3209.3 781.0,3198.3 L782.1,3166.4 L788.3,3166.4 L789.4,3198.3 Q789.4,3209.3 794.2,3212.8 Z"/>
<path d="M1295.1,3087.7 Q1299.9,3084.2 1299.9,3073.2 L1301.0,3042.1 L1307.2,3042.1 L1308.3,3073.2 Q1308.3,3084.2 1313.1,3087.7 Z"/>
</g>
<g font-family="'Liberation Sans', Arial, sans-serif" fill="#000">
<text x="633.5" y="2355.7" font-size="63.5" text-anchor="middle">N-H</text>
<text x="788.5" y="2344.9" font-size="62" text-anchor="middle">C-H</text>
<text x="1523.0" y="2131.0" font-size="61.5" text-anchor="middle">C-C, C=C,</text>
<text x="1522.0" y="2206.0" font-size="61.5" text-anchor="middle">C=O, C-H</text>
<text x="1786.5" y="2259.5" font-size="62" text-anchor="middle">C-O-C</text>
<text x="1987.2" y="2258.0" font-size="62" text-anchor="middle">C-H</text>
<text x="1413.7" y="3092.2" font-size="62" text-anchor="middle">C=O</text>
<text x="471.0" y="2538.0" font-size="87" text-anchor="middle">(v)</text>
<text x="472.0" y="2994.6" font-size="87" text-anchor="middle">(vi)</text>
<text x="483.0" y="3478.0" font-size="87" text-anchor="middle">(vii)</text>
</g>
<!--M1--><g fill="#fff"><rect x="309.9" y="587.8" width="20.1" height="9.9"/><rect x="340.2" y="587.8" width="19.7" height="9.9"/><rect x="219.3" y="119.6" width="20.1" height="9.9"/><rect x="249.6" y="119.6" width="19.7" height="9.9"/><rect x="1713.1" y="3730.1" width="20.1" height="9.9"/><rect x="1743.5" y="3730.1" width="19.7" height="9.9"/><rect x="1733.5" y="3861.4" width="13.3" height="7.1"/><rect x="1753.8" y="3861.4" width="13.2" height="7.1"/><rect x="1146.0" y="2105.8" width="16.0" height="8.2"/><rect x="1170.2" y="2105.8" width="15.7" height="8.2"/></g><!--/M1-->
</svg>
</body></html>
